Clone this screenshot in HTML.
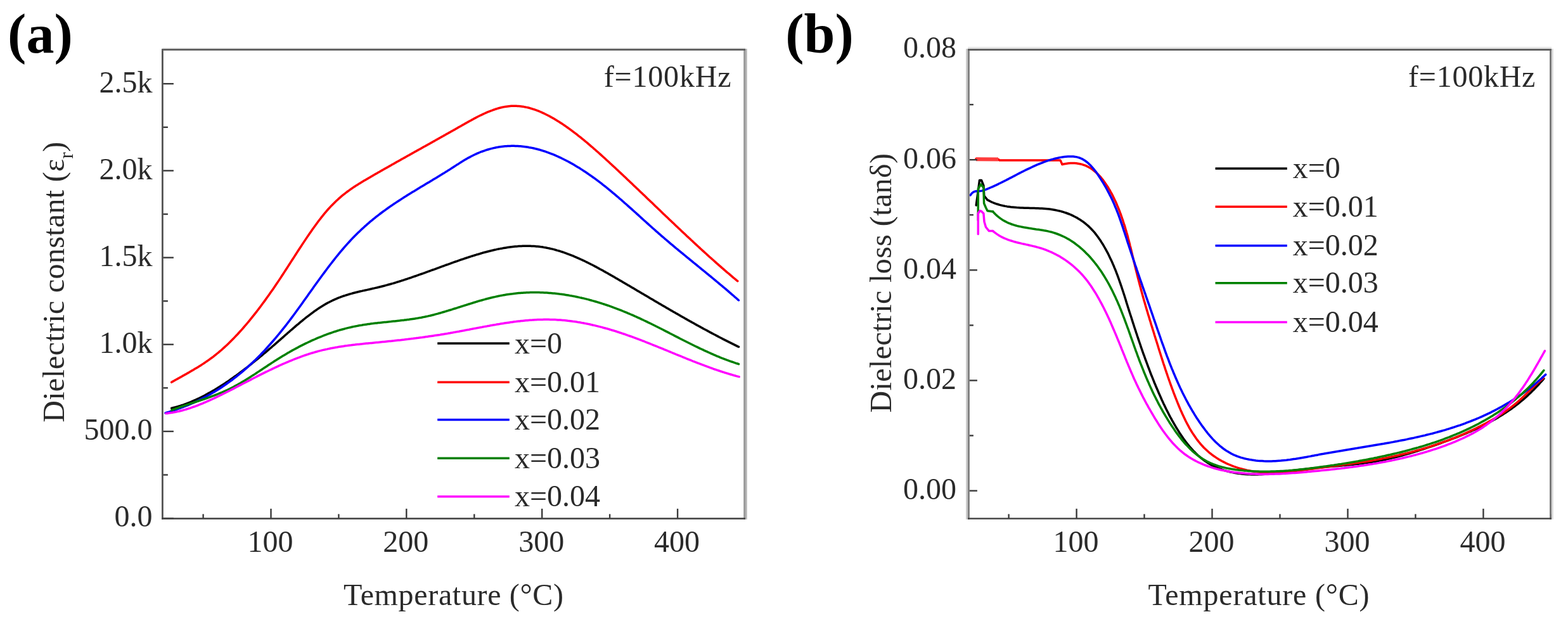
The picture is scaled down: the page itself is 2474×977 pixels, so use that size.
<!DOCTYPE html>
<html><head><meta charset="utf-8"><title>Dielectric properties</title>
<style>html,body{margin:0;padding:0;background:#fff;} svg{display:block;}</style></head>
<body>
<svg width="2474" height="977" viewBox="0 0 2474 977">
<rect width="2474" height="977" fill="#fff"/>
<clipPath id="clip256"><rect x="256.4" y="78.2" width="919.6" height="740.2"/></clipPath>
<g clip-path="url(#clip256)" fill="none" stroke-width="3.5" stroke-linejoin="round" stroke-linecap="round">
<path d="M270.7,644.3 L272.7,643.8 L274.7,643.3 L276.7,642.8 L278.7,642.2 L280.7,641.6 L282.7,641.0 L284.7,640.4 L286.7,639.7 L288.7,639.1 L290.7,638.4 L292.7,637.6 L294.7,636.9 L296.7,636.1 L298.7,635.3 L300.7,634.5 L302.7,633.7 L304.7,632.8 L306.7,631.9 L308.7,631.0 L310.7,630.1 L312.7,629.2 L314.7,628.2 L316.7,627.2 L318.7,626.2 L320.7,625.2 L322.7,624.2 L324.7,623.1 L326.7,622.0 L328.7,620.9 L330.7,619.8 L332.7,618.7 L334.7,617.5 L336.7,616.4 L338.7,615.2 L340.7,614.0 L342.7,612.8 L344.7,611.5 L346.7,610.3 L348.7,609.0 L350.7,607.7 L352.7,606.4 L354.7,605.1 L356.7,603.8 L358.7,602.4 L360.7,601.1 L362.7,599.7 L364.7,598.3 L366.7,596.9 L368.7,595.5 L370.7,594.0 L372.7,592.6 L374.7,591.1 L376.7,589.7 L378.7,588.2 L380.7,586.7 L382.7,585.2 L384.7,583.7 L386.7,582.1 L388.7,580.6 L390.7,579.1 L392.7,577.5 L394.7,575.9 L396.7,574.3 L398.7,572.7 L400.7,571.1 L402.7,569.5 L404.7,567.9 L406.7,566.3 L408.7,564.6 L410.7,563.0 L412.7,561.3 L414.7,559.6 L416.7,558.0 L418.7,556.3 L420.7,554.6 L422.7,552.9 L424.7,551.2 L426.7,549.5 L428.7,547.8 L430.7,546.0 L432.7,544.3 L434.7,542.6 L436.7,540.8 L438.7,539.1 L440.7,537.3 L442.7,535.6 L444.7,533.8 L446.7,532.1 L448.7,530.3 L450.7,528.5 L452.7,526.8 L454.7,525.0 L456.7,523.3 L458.7,521.5 L460.7,519.8 L462.7,518.1 L464.7,516.4 L466.7,514.6 L468.7,512.9 L470.7,511.3 L472.7,509.6 L474.7,507.9 L476.7,506.3 L478.7,504.6 L480.7,503.0 L482.7,501.4 L484.7,499.9 L486.7,498.3 L488.7,496.8 L490.7,495.3 L492.7,493.8 L494.7,492.3 L496.7,490.9 L498.7,489.5 L500.7,488.1 L502.7,486.8 L504.7,485.4 L506.7,484.2 L508.7,482.9 L510.7,481.7 L512.7,480.5 L514.7,479.4 L516.7,478.3 L518.7,477.2 L520.7,476.2 L522.7,475.2 L524.7,474.2 L526.7,473.3 L528.7,472.4 L530.7,471.6 L532.7,470.7 L534.7,469.9 L536.7,469.2 L538.7,468.4 L540.7,467.7 L542.7,467.0 L544.7,466.4 L546.7,465.7 L548.7,465.1 L550.7,464.5 L552.7,463.9 L554.7,463.4 L556.7,462.8 L558.7,462.3 L560.7,461.8 L562.7,461.3 L564.7,460.8 L566.7,460.3 L568.7,459.8 L570.7,459.4 L572.7,458.9 L574.7,458.5 L576.7,458.0 L578.7,457.6 L580.7,457.1 L582.7,456.7 L584.7,456.2 L586.7,455.8 L588.7,455.3 L590.7,454.9 L592.7,454.4 L594.7,454.0 L596.7,453.5 L598.7,453.0 L600.7,452.5 L602.7,452.0 L604.7,451.5 L606.7,451.0 L608.7,450.4 L610.7,449.9 L612.7,449.3 L614.7,448.8 L616.7,448.2 L618.7,447.6 L620.7,447.1 L622.7,446.5 L624.7,445.9 L626.7,445.2 L628.7,444.6 L630.7,444.0 L632.7,443.4 L634.7,442.7 L636.7,442.1 L638.7,441.4 L640.7,440.8 L642.7,440.1 L644.7,439.4 L646.7,438.8 L648.7,438.1 L650.7,437.4 L652.7,436.7 L654.7,436.0 L656.7,435.3 L658.7,434.6 L660.7,433.9 L662.7,433.2 L664.7,432.5 L666.7,431.8 L668.7,431.1 L670.7,430.4 L672.7,429.6 L674.7,428.9 L676.7,428.2 L678.7,427.5 L680.7,426.7 L682.7,426.0 L684.7,425.3 L686.7,424.6 L688.7,423.8 L690.7,423.1 L692.7,422.4 L694.7,421.6 L696.7,420.9 L698.7,420.2 L700.7,419.5 L702.7,418.7 L704.7,418.0 L706.7,417.3 L708.7,416.6 L710.7,415.9 L712.7,415.1 L714.7,414.4 L716.7,413.7 L718.7,413.0 L720.7,412.3 L722.7,411.6 L724.7,410.9 L726.7,410.2 L728.7,409.5 L730.7,408.9 L732.7,408.2 L734.7,407.5 L736.7,406.8 L738.7,406.2 L740.7,405.5 L742.7,404.9 L744.7,404.2 L746.7,403.6 L748.7,403.0 L750.7,402.4 L752.7,401.7 L754.7,401.2 L756.7,400.6 L758.7,400.0 L760.7,399.4 L762.7,398.8 L764.7,398.3 L766.7,397.8 L768.7,397.2 L770.7,396.7 L772.7,396.2 L774.7,395.7 L776.7,395.2 L778.7,394.8 L780.7,394.3 L782.7,393.9 L784.7,393.4 L786.7,393.0 L788.7,392.6 L790.7,392.2 L792.7,391.9 L794.7,391.5 L796.7,391.2 L798.7,390.9 L800.7,390.6 L802.7,390.3 L804.7,390.0 L806.7,389.7 L808.7,389.5 L810.7,389.3 L812.7,389.1 L814.7,388.9 L816.7,388.8 L818.7,388.6 L820.7,388.5 L822.7,388.4 L824.7,388.3 L826.7,388.3 L828.7,388.2 L830.7,388.2 L832.7,388.2 L834.7,388.2 L836.7,388.3 L838.7,388.4 L840.7,388.5 L842.7,388.6 L844.7,388.7 L846.7,388.9 L848.7,389.1 L850.7,389.3 L852.7,389.6 L854.7,389.8 L856.7,390.1 L858.7,390.5 L860.7,390.8 L862.7,391.2 L864.7,391.6 L866.7,392.0 L868.7,392.5 L870.7,392.9 L872.7,393.4 L874.7,393.9 L876.7,394.5 L878.7,395.1 L880.7,395.6 L882.7,396.2 L884.7,396.9 L886.7,397.5 L888.7,398.2 L890.7,398.9 L892.7,399.6 L894.7,400.3 L896.7,401.1 L898.7,401.8 L900.7,402.6 L902.7,403.4 L904.7,404.2 L906.7,405.1 L908.7,405.9 L910.7,406.8 L912.7,407.7 L914.7,408.6 L916.7,409.5 L918.7,410.4 L920.7,411.3 L922.7,412.3 L924.7,413.3 L926.7,414.2 L928.7,415.2 L930.7,416.2 L932.7,417.3 L934.7,418.3 L936.7,419.3 L938.7,420.4 L940.7,421.4 L942.7,422.5 L944.7,423.6 L946.7,424.7 L948.7,425.7 L950.7,426.8 L952.7,428.0 L954.7,429.1 L956.7,430.2 L958.7,431.3 L960.7,432.5 L962.7,433.6 L964.7,434.7 L966.7,435.9 L968.7,437.0 L970.7,438.2 L972.7,439.4 L974.7,440.5 L976.7,441.7 L978.7,442.9 L980.7,444.0 L982.7,445.2 L984.7,446.4 L986.7,447.6 L988.7,448.7 L990.7,449.9 L992.7,451.1 L994.7,452.3 L996.7,453.5 L998.7,454.6 L1000.7,455.8 L1002.7,457.0 L1004.7,458.2 L1006.7,459.4 L1008.7,460.5 L1010.7,461.7 L1012.7,462.9 L1014.7,464.1 L1016.7,465.3 L1018.7,466.4 L1020.7,467.6 L1022.7,468.8 L1024.7,470.0 L1026.7,471.2 L1028.7,472.3 L1030.7,473.5 L1032.7,474.7 L1034.7,475.9 L1036.7,477.0 L1038.7,478.2 L1040.7,479.4 L1042.7,480.5 L1044.7,481.7 L1046.7,482.9 L1048.7,484.0 L1050.7,485.2 L1052.7,486.4 L1054.7,487.5 L1056.7,488.7 L1058.7,489.9 L1060.7,491.0 L1062.7,492.2 L1064.7,493.3 L1066.7,494.5 L1068.7,495.6 L1070.7,496.8 L1072.7,497.9 L1074.7,499.1 L1076.7,500.2 L1078.7,501.3 L1080.7,502.5 L1082.7,503.6 L1084.7,504.7 L1086.7,505.9 L1088.7,507.0 L1090.7,508.1 L1092.7,509.2 L1094.7,510.3 L1096.7,511.5 L1098.7,512.6 L1100.7,513.7 L1102.7,514.8 L1104.7,515.9 L1106.7,517.0 L1108.7,518.1 L1110.7,519.2 L1112.7,520.2 L1114.7,521.3 L1116.7,522.4 L1118.7,523.5 L1120.7,524.6 L1122.7,525.6 L1124.7,526.7 L1126.7,527.8 L1128.7,528.8 L1130.7,529.9 L1132.7,530.9 L1134.7,532.0 L1136.7,533.0 L1138.7,534.0 L1140.7,535.1 L1142.7,536.1 L1144.7,537.1 L1146.7,538.1 L1148.7,539.1 L1150.7,540.1 L1152.7,541.1 L1154.7,542.1 L1156.7,543.1 L1158.7,544.1 L1160.7,545.1 L1162.7,546.1 L1164.7,547.1 L1165.5,547.4" stroke="#000000"/>
<path d="M270.7,603.3 L272.7,602.1 L274.7,601.0 L276.7,599.8 L278.7,598.7 L280.7,597.6 L282.7,596.5 L284.7,595.4 L286.7,594.2 L288.7,593.1 L290.7,592.0 L292.7,590.9 L294.7,589.7 L296.7,588.6 L298.7,587.5 L300.7,586.3 L302.7,585.1 L304.7,584.0 L306.7,582.8 L308.7,581.6 L310.7,580.4 L312.7,579.2 L314.7,577.9 L316.7,576.7 L318.7,575.4 L320.7,574.1 L322.7,572.7 L324.7,571.4 L326.7,570.0 L328.7,568.6 L330.7,567.2 L332.7,565.7 L334.7,564.3 L336.7,562.8 L338.7,561.2 L340.7,559.6 L342.7,558.0 L344.7,556.4 L346.7,554.7 L348.7,553.0 L350.7,551.2 L352.7,549.4 L354.7,547.6 L356.7,545.8 L358.7,543.9 L360.7,542.0 L362.7,540.0 L364.7,538.0 L366.7,536.0 L368.7,534.0 L370.7,531.9 L372.7,529.8 L374.7,527.7 L376.7,525.5 L378.7,523.3 L380.7,521.1 L382.7,518.8 L384.7,516.5 L386.7,514.2 L388.7,511.9 L390.7,509.5 L392.7,507.1 L394.7,504.7 L396.7,502.2 L398.7,499.7 L400.7,497.2 L402.7,494.6 L404.7,492.1 L406.7,489.5 L408.7,486.9 L410.7,484.2 L412.7,481.5 L414.7,478.8 L416.7,476.1 L418.7,473.4 L420.7,470.6 L422.7,467.8 L424.7,465.0 L426.7,462.1 L428.7,459.3 L430.7,456.4 L432.7,453.5 L434.7,450.5 L436.7,447.6 L438.7,444.6 L440.7,441.6 L442.7,438.6 L444.7,435.5 L446.7,432.5 L448.7,429.4 L450.7,426.3 L452.7,423.2 L454.7,420.1 L456.7,417.0 L458.7,413.9 L460.7,410.8 L462.7,407.7 L464.7,404.6 L466.7,401.5 L468.7,398.4 L470.7,395.3 L472.7,392.2 L474.7,389.2 L476.7,386.1 L478.7,383.1 L480.7,380.1 L482.7,377.1 L484.7,374.1 L486.7,371.2 L488.7,368.3 L490.7,365.4 L492.7,362.5 L494.7,359.7 L496.7,356.9 L498.7,354.2 L500.7,351.5 L502.7,348.8 L504.7,346.2 L506.7,343.6 L508.7,341.1 L510.7,338.6 L512.7,336.2 L514.7,333.8 L516.7,331.5 L518.7,329.3 L520.7,327.1 L522.7,324.9 L524.7,322.9 L526.7,320.9 L528.7,318.9 L530.7,317.0 L532.7,315.2 L534.7,313.4 L536.7,311.6 L538.7,309.9 L540.7,308.2 L542.7,306.6 L544.7,305.1 L546.7,303.5 L548.7,302.0 L550.7,300.6 L552.7,299.1 L554.7,297.7 L556.7,296.4 L558.7,295.0 L560.7,293.7 L562.7,292.4 L564.7,291.2 L566.7,289.9 L568.7,288.7 L570.7,287.5 L572.7,286.3 L574.7,285.1 L576.7,283.9 L578.7,282.7 L580.7,281.6 L582.7,280.4 L584.7,279.2 L586.7,278.1 L588.7,276.9 L590.7,275.8 L592.7,274.6 L594.7,273.5 L596.7,272.3 L598.7,271.2 L600.7,270.0 L602.7,268.9 L604.7,267.8 L606.7,266.6 L608.7,265.5 L610.7,264.4 L612.7,263.2 L614.7,262.1 L616.7,261.0 L618.7,259.8 L620.7,258.7 L622.7,257.6 L624.7,256.4 L626.7,255.3 L628.7,254.2 L630.7,253.1 L632.7,251.9 L634.7,250.8 L636.7,249.7 L638.7,248.6 L640.7,247.5 L642.7,246.3 L644.7,245.2 L646.7,244.1 L648.7,243.0 L650.7,241.9 L652.7,240.8 L654.7,239.6 L656.7,238.5 L658.7,237.4 L660.7,236.3 L662.7,235.2 L664.7,234.1 L666.7,232.9 L668.7,231.8 L670.7,230.7 L672.7,229.6 L674.7,228.5 L676.7,227.4 L678.7,226.2 L680.7,225.1 L682.7,224.0 L684.7,222.9 L686.7,221.8 L688.7,220.6 L690.7,219.5 L692.7,218.4 L694.7,217.3 L696.7,216.1 L698.7,215.0 L700.7,213.9 L702.7,212.8 L704.7,211.6 L706.7,210.5 L708.7,209.4 L710.7,208.3 L712.7,207.1 L714.7,206.0 L716.7,204.9 L718.7,203.7 L720.7,202.6 L722.7,201.4 L724.7,200.3 L726.7,199.2 L728.7,198.0 L730.7,196.9 L732.7,195.7 L734.7,194.6 L736.7,193.5 L738.7,192.4 L740.7,191.3 L742.7,190.2 L744.7,189.1 L746.7,188.0 L748.7,186.9 L750.7,185.9 L752.7,184.8 L754.7,183.8 L756.7,182.8 L758.7,181.8 L760.7,180.9 L762.7,179.9 L764.7,179.0 L766.7,178.1 L768.7,177.2 L770.7,176.4 L772.7,175.6 L774.7,174.8 L776.7,174.1 L778.7,173.3 L780.7,172.7 L782.7,172.0 L784.7,171.4 L786.7,170.8 L788.7,170.3 L790.7,169.8 L792.7,169.3 L794.7,168.9 L796.7,168.5 L798.7,168.2 L800.7,167.9 L802.7,167.7 L804.7,167.5 L806.7,167.3 L808.7,167.2 L810.7,167.2 L812.7,167.2 L814.7,167.3 L816.7,167.4 L818.7,167.5 L820.7,167.7 L822.7,168.0 L824.7,168.3 L826.7,168.6 L828.7,169.0 L830.7,169.4 L832.7,169.8 L834.7,170.3 L836.7,170.9 L838.7,171.5 L840.7,172.1 L842.7,172.7 L844.7,173.4 L846.7,174.1 L848.7,174.9 L850.7,175.7 L852.7,176.5 L854.7,177.4 L856.7,178.3 L858.7,179.2 L860.7,180.2 L862.7,181.2 L864.7,182.2 L866.7,183.3 L868.7,184.4 L870.7,185.5 L872.7,186.6 L874.7,187.8 L876.7,189.0 L878.7,190.2 L880.7,191.4 L882.7,192.7 L884.7,194.0 L886.7,195.3 L888.7,196.6 L890.7,198.0 L892.7,199.4 L894.7,200.8 L896.7,202.2 L898.7,203.6 L900.7,205.1 L902.7,206.6 L904.7,208.1 L906.7,209.6 L908.7,211.1 L910.7,212.7 L912.7,214.3 L914.7,215.8 L916.7,217.4 L918.7,219.1 L920.7,220.7 L922.7,222.3 L924.7,224.0 L926.7,225.7 L928.7,227.4 L930.7,229.1 L932.7,230.8 L934.7,232.5 L936.7,234.3 L938.7,236.0 L940.7,237.8 L942.7,239.5 L944.7,241.3 L946.7,243.1 L948.7,244.9 L950.7,246.7 L952.7,248.5 L954.7,250.3 L956.7,252.2 L958.7,254.0 L960.7,255.8 L962.7,257.7 L964.7,259.5 L966.7,261.4 L968.7,263.2 L970.7,265.1 L972.7,267.0 L974.7,268.8 L976.7,270.7 L978.7,272.6 L980.7,274.4 L982.7,276.3 L984.7,278.2 L986.7,280.1 L988.7,282.0 L990.7,283.9 L992.7,285.8 L994.7,287.7 L996.7,289.6 L998.7,291.5 L1000.7,293.4 L1002.7,295.3 L1004.7,297.2 L1006.7,299.1 L1008.7,301.0 L1010.7,302.9 L1012.7,304.8 L1014.7,306.7 L1016.7,308.6 L1018.7,310.5 L1020.7,312.5 L1022.7,314.4 L1024.7,316.3 L1026.7,318.2 L1028.7,320.1 L1030.7,322.0 L1032.7,324.0 L1034.7,325.9 L1036.7,327.8 L1038.7,329.7 L1040.7,331.6 L1042.7,333.5 L1044.7,335.4 L1046.7,337.4 L1048.7,339.3 L1050.7,341.2 L1052.7,343.1 L1054.7,345.0 L1056.7,346.9 L1058.7,348.8 L1060.7,350.7 L1062.7,352.6 L1064.7,354.5 L1066.7,356.4 L1068.7,358.3 L1070.7,360.2 L1072.7,362.1 L1074.7,364.0 L1076.7,365.9 L1078.7,367.7 L1080.7,369.6 L1082.7,371.5 L1084.7,373.4 L1086.7,375.2 L1088.7,377.1 L1090.7,379.0 L1092.7,380.8 L1094.7,382.7 L1096.7,384.6 L1098.7,386.4 L1100.7,388.2 L1102.7,390.1 L1104.7,391.9 L1106.7,393.8 L1108.7,395.6 L1110.7,397.4 L1112.7,399.2 L1114.7,401.0 L1116.7,402.9 L1118.7,404.7 L1120.7,406.5 L1122.7,408.2 L1124.7,410.0 L1126.7,411.8 L1128.7,413.6 L1130.7,415.4 L1132.7,417.1 L1134.7,418.9 L1136.7,420.6 L1138.7,422.4 L1140.7,424.1 L1142.7,425.9 L1144.7,427.6 L1146.7,429.3 L1148.7,431.0 L1150.7,432.7 L1152.7,434.4 L1154.7,436.1 L1156.7,437.8 L1158.7,439.5 L1160.7,441.2 L1162.7,442.8 L1163.8,443.7" stroke="#ff0000"/>
<path d="M261.0,651.9 L263.0,651.3 L265.0,650.7 L267.0,650.1 L269.0,649.5 L271.0,648.8 L273.0,648.2 L275.0,647.5 L277.0,646.8 L279.0,646.1 L281.0,645.4 L283.0,644.7 L285.0,644.0 L287.0,643.2 L289.0,642.5 L291.0,641.7 L293.0,640.9 L295.0,640.1 L297.0,639.3 L299.0,638.4 L301.0,637.6 L303.0,636.7 L305.0,635.8 L307.0,634.9 L309.0,634.0 L311.0,633.0 L313.0,632.1 L315.0,631.1 L317.0,630.1 L319.0,629.1 L321.0,628.1 L323.0,627.0 L325.0,626.0 L327.0,624.9 L329.0,623.8 L331.0,622.7 L333.0,621.5 L335.0,620.3 L337.0,619.2 L339.0,618.0 L341.0,616.7 L343.0,615.5 L345.0,614.2 L347.0,613.0 L349.0,611.7 L351.0,610.3 L353.0,609.0 L355.0,607.6 L357.0,606.2 L359.0,604.8 L361.0,603.4 L363.0,601.9 L365.0,600.5 L367.0,599.0 L369.0,597.4 L371.0,595.9 L373.0,594.3 L375.0,592.7 L377.0,591.1 L379.0,589.5 L381.0,587.8 L383.0,586.1 L385.0,584.4 L387.0,582.7 L389.0,580.9 L391.0,579.1 L393.0,577.3 L395.0,575.5 L397.0,573.6 L399.0,571.7 L401.0,569.8 L403.0,567.9 L405.0,565.9 L407.0,563.9 L409.0,561.9 L411.0,559.9 L413.0,557.8 L415.0,555.7 L417.0,553.6 L419.0,551.4 L421.0,549.2 L423.0,547.0 L425.0,544.8 L427.0,542.5 L429.0,540.3 L431.0,538.0 L433.0,535.6 L435.0,533.3 L437.0,530.9 L439.0,528.5 L441.0,526.1 L443.0,523.6 L445.0,521.1 L447.0,518.6 L449.0,516.1 L451.0,513.6 L453.0,511.0 L455.0,508.4 L457.0,505.8 L459.0,503.1 L461.0,500.4 L463.0,497.7 L465.0,495.0 L467.0,492.3 L469.0,489.5 L471.0,486.8 L473.0,484.0 L475.0,481.2 L477.0,478.4 L479.0,475.6 L481.0,472.8 L483.0,470.0 L485.0,467.2 L487.0,464.3 L489.0,461.5 L491.0,458.7 L493.0,455.9 L495.0,453.1 L497.0,450.3 L499.0,447.5 L501.0,444.7 L503.0,442.0 L505.0,439.2 L507.0,436.5 L509.0,433.8 L511.0,431.1 L513.0,428.4 L515.0,425.7 L517.0,423.0 L519.0,420.4 L521.0,417.8 L523.0,415.2 L525.0,412.6 L527.0,410.1 L529.0,407.5 L531.0,405.0 L533.0,402.6 L535.0,400.1 L537.0,397.7 L539.0,395.3 L541.0,393.0 L543.0,390.6 L545.0,388.3 L547.0,386.1 L549.0,383.9 L551.0,381.7 L553.0,379.5 L555.0,377.4 L557.0,375.3 L559.0,373.3 L561.0,371.3 L563.0,369.3 L565.0,367.3 L567.0,365.4 L569.0,363.5 L571.0,361.6 L573.0,359.8 L575.0,357.9 L577.0,356.2 L579.0,354.4 L581.0,352.7 L583.0,350.9 L585.0,349.2 L587.0,347.6 L589.0,345.9 L591.0,344.3 L593.0,342.7 L595.0,341.1 L597.0,339.6 L599.0,338.0 L601.0,336.5 L603.0,335.0 L605.0,333.5 L607.0,332.1 L609.0,330.6 L611.0,329.2 L613.0,327.8 L615.0,326.4 L617.0,325.0 L619.0,323.6 L621.0,322.3 L623.0,320.9 L625.0,319.6 L627.0,318.3 L629.0,317.0 L631.0,315.7 L633.0,314.4 L635.0,313.1 L637.0,311.8 L639.0,310.6 L641.0,309.3 L643.0,308.0 L645.0,306.8 L647.0,305.6 L649.0,304.3 L651.0,303.1 L653.0,301.9 L655.0,300.7 L657.0,299.5 L659.0,298.3 L661.0,297.0 L663.0,295.8 L665.0,294.6 L667.0,293.4 L669.0,292.2 L671.0,291.0 L673.0,289.8 L675.0,288.6 L677.0,287.5 L679.0,286.3 L681.0,285.1 L683.0,283.8 L685.0,282.6 L687.0,281.4 L689.0,280.2 L691.0,279.0 L693.0,277.8 L695.0,276.6 L697.0,275.3 L699.0,274.1 L701.0,272.9 L703.0,271.6 L705.0,270.4 L707.0,269.1 L709.0,267.9 L711.0,266.6 L713.0,265.3 L715.0,264.0 L717.0,262.7 L719.0,261.4 L721.0,260.1 L723.0,258.9 L725.0,257.6 L727.0,256.3 L729.0,255.1 L731.0,253.8 L733.0,252.6 L735.0,251.4 L737.0,250.3 L739.0,249.1 L741.0,248.1 L743.0,247.0 L745.0,246.0 L747.0,245.0 L749.0,244.0 L751.0,243.1 L753.0,242.2 L755.0,241.3 L757.0,240.5 L759.0,239.7 L761.0,239.0 L763.0,238.3 L765.0,237.6 L767.0,236.9 L769.0,236.3 L771.0,235.7 L773.0,235.1 L775.0,234.6 L777.0,234.1 L779.0,233.6 L781.0,233.2 L783.0,232.8 L785.0,232.4 L787.0,232.1 L789.0,231.8 L791.0,231.5 L793.0,231.2 L795.0,231.0 L797.0,230.8 L799.0,230.7 L801.0,230.5 L803.0,230.4 L805.0,230.4 L807.0,230.3 L809.0,230.3 L811.0,230.3 L813.0,230.4 L815.0,230.4 L817.0,230.5 L819.0,230.7 L821.0,230.8 L823.0,231.0 L825.0,231.2 L827.0,231.4 L829.0,231.7 L831.0,232.0 L833.0,232.3 L835.0,232.7 L837.0,233.0 L839.0,233.4 L841.0,233.8 L843.0,234.3 L845.0,234.8 L847.0,235.2 L849.0,235.8 L851.0,236.3 L853.0,236.9 L855.0,237.5 L857.0,238.1 L859.0,238.7 L861.0,239.4 L863.0,240.1 L865.0,240.8 L867.0,241.6 L869.0,242.3 L871.0,243.1 L873.0,243.9 L875.0,244.7 L877.0,245.6 L879.0,246.5 L881.0,247.4 L883.0,248.3 L885.0,249.2 L887.0,250.2 L889.0,251.2 L891.0,252.2 L893.0,253.2 L895.0,254.3 L897.0,255.3 L899.0,256.4 L901.0,257.5 L903.0,258.6 L905.0,259.8 L907.0,261.0 L909.0,262.2 L911.0,263.4 L913.0,264.6 L915.0,265.8 L917.0,267.1 L919.0,268.4 L921.0,269.7 L923.0,271.0 L925.0,272.3 L927.0,273.7 L929.0,275.1 L931.0,276.5 L933.0,277.9 L935.0,279.3 L937.0,280.7 L939.0,282.2 L941.0,283.7 L943.0,285.2 L945.0,286.7 L947.0,288.2 L949.0,289.7 L951.0,291.3 L953.0,292.8 L955.0,294.4 L957.0,296.0 L959.0,297.7 L961.0,299.3 L963.0,300.9 L965.0,302.6 L967.0,304.3 L969.0,305.9 L971.0,307.6 L973.0,309.3 L975.0,311.0 L977.0,312.8 L979.0,314.5 L981.0,316.2 L983.0,318.0 L985.0,319.8 L987.0,321.5 L989.0,323.3 L991.0,325.1 L993.0,326.9 L995.0,328.6 L997.0,330.4 L999.0,332.2 L1001.0,334.0 L1003.0,335.8 L1005.0,337.6 L1007.0,339.4 L1009.0,341.2 L1011.0,343.1 L1013.0,344.9 L1015.0,346.7 L1017.0,348.5 L1019.0,350.3 L1021.0,352.1 L1023.0,353.9 L1025.0,355.7 L1027.0,357.5 L1029.0,359.3 L1031.0,361.0 L1033.0,362.8 L1035.0,364.6 L1037.0,366.3 L1039.0,368.1 L1041.0,369.8 L1043.0,371.6 L1045.0,373.3 L1047.0,375.0 L1049.0,376.8 L1051.0,378.5 L1053.0,380.2 L1055.0,381.9 L1057.0,383.6 L1059.0,385.3 L1061.0,386.9 L1063.0,388.6 L1065.0,390.3 L1067.0,392.0 L1069.0,393.6 L1071.0,395.3 L1073.0,396.9 L1075.0,398.6 L1077.0,400.2 L1079.0,401.9 L1081.0,403.5 L1083.0,405.2 L1085.0,406.8 L1087.0,408.4 L1089.0,410.1 L1091.0,411.7 L1093.0,413.3 L1095.0,415.0 L1097.0,416.6 L1099.0,418.2 L1101.0,419.9 L1103.0,421.5 L1105.0,423.1 L1107.0,424.8 L1109.0,426.4 L1111.0,428.0 L1113.0,429.7 L1115.0,431.3 L1117.0,432.9 L1119.0,434.6 L1121.0,436.2 L1123.0,437.9 L1125.0,439.5 L1127.0,441.2 L1129.0,442.8 L1131.0,444.5 L1133.0,446.1 L1135.0,447.8 L1137.0,449.5 L1139.0,451.2 L1141.0,452.8 L1143.0,454.5 L1145.0,456.2 L1147.0,457.9 L1149.0,459.6 L1151.0,461.4 L1153.0,463.1 L1155.0,464.8 L1157.0,466.5 L1159.0,468.3 L1161.0,470.0 L1163.0,471.8 L1165.0,473.6 L1165.5,474.0" stroke="#0000ff"/>
<path d="M270.7,647.5 L272.7,646.7 L274.7,646.0 L276.7,645.2 L278.7,644.5 L280.7,643.8 L282.7,643.0 L284.7,642.3 L286.7,641.6 L288.7,641.0 L290.7,640.3 L292.7,639.6 L294.7,638.9 L296.7,638.3 L298.7,637.6 L300.7,636.9 L302.7,636.3 L304.7,635.6 L306.7,635.0 L308.7,634.3 L310.7,633.7 L312.7,633.0 L314.7,632.3 L316.7,631.7 L318.7,631.0 L320.7,630.3 L322.7,629.7 L324.7,629.0 L326.7,628.3 L328.7,627.6 L330.7,626.9 L332.7,626.1 L334.7,625.4 L336.7,624.7 L338.7,623.9 L340.7,623.1 L342.7,622.3 L344.7,621.5 L346.7,620.7 L348.7,619.9 L350.7,619.0 L352.7,618.2 L354.7,617.3 L356.7,616.4 L358.7,615.5 L360.7,614.5 L362.7,613.5 L364.7,612.5 L366.7,611.5 L368.7,610.5 L370.7,609.4 L372.7,608.3 L374.7,607.2 L376.7,606.1 L378.7,605.0 L380.7,603.8 L382.7,602.6 L384.7,601.4 L386.7,600.2 L388.7,599.0 L390.7,597.7 L392.7,596.5 L394.7,595.2 L396.7,593.9 L398.7,592.6 L400.7,591.4 L402.7,590.1 L404.7,588.7 L406.7,587.4 L408.7,586.1 L410.7,584.8 L412.7,583.5 L414.7,582.1 L416.7,580.8 L418.7,579.5 L420.7,578.2 L422.7,576.8 L424.7,575.5 L426.7,574.2 L428.7,572.9 L430.7,571.6 L432.7,570.3 L434.7,569.0 L436.7,567.8 L438.7,566.5 L440.7,565.2 L442.7,564.0 L444.7,562.8 L446.7,561.6 L448.7,560.4 L450.7,559.2 L452.7,558.0 L454.7,556.8 L456.7,555.7 L458.7,554.5 L460.7,553.4 L462.7,552.3 L464.7,551.2 L466.7,550.1 L468.7,549.1 L470.7,548.0 L472.7,546.9 L474.7,545.9 L476.7,544.9 L478.7,543.9 L480.7,542.9 L482.7,541.9 L484.7,541.0 L486.7,540.0 L488.7,539.1 L490.7,538.1 L492.7,537.2 L494.7,536.3 L496.7,535.5 L498.7,534.6 L500.7,533.7 L502.7,532.9 L504.7,532.1 L506.7,531.3 L508.7,530.5 L510.7,529.7 L512.7,528.9 L514.7,528.2 L516.7,527.4 L518.7,526.7 L520.7,526.0 L522.7,525.3 L524.7,524.6 L526.7,523.9 L528.7,523.3 L530.7,522.7 L532.7,522.0 L534.7,521.4 L536.7,520.8 L538.7,520.3 L540.7,519.7 L542.7,519.2 L544.7,518.6 L546.7,518.1 L548.7,517.6 L550.7,517.1 L552.7,516.7 L554.7,516.2 L556.7,515.8 L558.7,515.4 L560.7,515.0 L562.7,514.6 L564.7,514.2 L566.7,513.8 L568.7,513.5 L570.7,513.2 L572.7,512.8 L574.7,512.5 L576.7,512.2 L578.7,511.9 L580.7,511.6 L582.7,511.4 L584.7,511.1 L586.7,510.8 L588.7,510.6 L590.7,510.3 L592.7,510.1 L594.7,509.9 L596.7,509.6 L598.7,509.4 L600.7,509.2 L602.7,509.0 L604.7,508.8 L606.7,508.6 L608.7,508.4 L610.7,508.2 L612.7,508.0 L614.7,507.8 L616.7,507.6 L618.7,507.3 L620.7,507.1 L622.7,506.9 L624.7,506.7 L626.7,506.5 L628.7,506.3 L630.7,506.1 L632.7,505.8 L634.7,505.6 L636.7,505.4 L638.7,505.1 L640.7,504.9 L642.7,504.6 L644.7,504.4 L646.7,504.1 L648.7,503.8 L650.7,503.5 L652.7,503.2 L654.7,502.9 L656.7,502.6 L658.7,502.3 L660.7,501.9 L662.7,501.5 L664.7,501.2 L666.7,500.8 L668.7,500.4 L670.7,500.0 L672.7,499.5 L674.7,499.1 L676.7,498.6 L678.7,498.2 L680.7,497.7 L682.7,497.2 L684.7,496.7 L686.7,496.1 L688.7,495.6 L690.7,495.1 L692.7,494.5 L694.7,494.0 L696.7,493.4 L698.7,492.8 L700.7,492.2 L702.7,491.6 L704.7,491.0 L706.7,490.4 L708.7,489.8 L710.7,489.2 L712.7,488.6 L714.7,487.9 L716.7,487.3 L718.7,486.7 L720.7,486.1 L722.7,485.4 L724.7,484.8 L726.7,484.1 L728.7,483.5 L730.7,482.9 L732.7,482.2 L734.7,481.6 L736.7,481.0 L738.7,480.3 L740.7,479.7 L742.7,479.1 L744.7,478.5 L746.7,477.8 L748.7,477.2 L750.7,476.6 L752.7,476.0 L754.7,475.4 L756.7,474.8 L758.7,474.3 L760.7,473.7 L762.7,473.1 L764.7,472.6 L766.7,472.0 L768.7,471.5 L770.7,471.0 L772.7,470.5 L774.7,470.0 L776.7,469.5 L778.7,469.0 L780.7,468.6 L782.7,468.1 L784.7,467.7 L786.7,467.3 L788.7,466.9 L790.7,466.5 L792.7,466.1 L794.7,465.7 L796.7,465.4 L798.7,465.1 L800.7,464.8 L802.7,464.5 L804.7,464.2 L806.7,463.9 L808.7,463.7 L810.7,463.4 L812.7,463.2 L814.7,463.0 L816.7,462.8 L818.7,462.6 L820.7,462.5 L822.7,462.3 L824.7,462.2 L826.7,462.0 L828.7,461.9 L830.7,461.8 L832.7,461.7 L834.7,461.7 L836.7,461.6 L838.7,461.6 L840.7,461.5 L842.7,461.5 L844.7,461.5 L846.7,461.5 L848.7,461.6 L850.7,461.6 L852.7,461.7 L854.7,461.7 L856.7,461.8 L858.7,461.9 L860.7,462.0 L862.7,462.1 L864.7,462.2 L866.7,462.4 L868.7,462.5 L870.7,462.7 L872.7,462.9 L874.7,463.1 L876.7,463.3 L878.7,463.5 L880.7,463.7 L882.7,464.0 L884.7,464.2 L886.7,464.5 L888.7,464.8 L890.7,465.1 L892.7,465.4 L894.7,465.7 L896.7,466.0 L898.7,466.4 L900.7,466.7 L902.7,467.1 L904.7,467.5 L906.7,467.9 L908.7,468.3 L910.7,468.7 L912.7,469.1 L914.7,469.6 L916.7,470.0 L918.7,470.5 L920.7,470.9 L922.7,471.4 L924.7,471.9 L926.7,472.4 L928.7,472.9 L930.7,473.5 L932.7,474.0 L934.7,474.6 L936.7,475.1 L938.7,475.7 L940.7,476.3 L942.7,476.9 L944.7,477.5 L946.7,478.1 L948.7,478.7 L950.7,479.4 L952.7,480.0 L954.7,480.7 L956.7,481.3 L958.7,482.0 L960.7,482.7 L962.7,483.4 L964.7,484.1 L966.7,484.8 L968.7,485.6 L970.7,486.3 L972.7,487.1 L974.7,487.8 L976.7,488.6 L978.7,489.4 L980.7,490.2 L982.7,491.0 L984.7,491.8 L986.7,492.6 L988.7,493.4 L990.7,494.3 L992.7,495.1 L994.7,496.0 L996.7,496.8 L998.7,497.7 L1000.7,498.6 L1002.7,499.5 L1004.7,500.4 L1006.7,501.3 L1008.7,502.2 L1010.7,503.1 L1012.7,504.1 L1014.7,505.0 L1016.7,506.0 L1018.7,506.9 L1020.7,507.9 L1022.7,508.9 L1024.7,509.8 L1026.7,510.8 L1028.7,511.8 L1030.7,512.8 L1032.7,513.8 L1034.7,514.8 L1036.7,515.8 L1038.7,516.8 L1040.7,517.8 L1042.7,518.8 L1044.7,519.8 L1046.7,520.8 L1048.7,521.9 L1050.7,522.9 L1052.7,523.9 L1054.7,524.9 L1056.7,526.0 L1058.7,527.0 L1060.7,528.0 L1062.7,529.0 L1064.7,530.1 L1066.7,531.1 L1068.7,532.1 L1070.7,533.1 L1072.7,534.2 L1074.7,535.2 L1076.7,536.2 L1078.7,537.2 L1080.7,538.2 L1082.7,539.2 L1084.7,540.2 L1086.7,541.2 L1088.7,542.2 L1090.7,543.2 L1092.7,544.2 L1094.7,545.2 L1096.7,546.2 L1098.7,547.2 L1100.7,548.1 L1102.7,549.1 L1104.7,550.1 L1106.7,551.0 L1108.7,551.9 L1110.7,552.9 L1112.7,553.8 L1114.7,554.7 L1116.7,555.6 L1118.7,556.5 L1120.7,557.4 L1122.7,558.3 L1124.7,559.2 L1126.7,560.1 L1128.7,560.9 L1130.7,561.8 L1132.7,562.6 L1134.7,563.4 L1136.7,564.3 L1138.7,565.1 L1140.7,565.8 L1142.7,566.6 L1144.7,567.4 L1146.7,568.2 L1148.7,568.9 L1150.7,569.6 L1152.7,570.3 L1154.7,571.0 L1156.7,571.7 L1158.7,572.4 L1160.7,573.1 L1162.7,573.7 L1164.7,574.3 L1165.5,574.6" stroke="#008000"/>
<path d="M262.0,652.6 L264.0,652.4 L266.0,652.1 L268.0,651.8 L270.0,651.5 L272.0,651.2 L274.0,650.8 L276.0,650.5 L278.0,650.1 L280.0,649.6 L282.0,649.2 L284.0,648.7 L286.0,648.2 L288.0,647.7 L290.0,647.1 L292.0,646.6 L294.0,646.0 L296.0,645.4 L298.0,644.7 L300.0,644.1 L302.0,643.4 L304.0,642.7 L306.0,642.0 L308.0,641.3 L310.0,640.5 L312.0,639.8 L314.0,639.0 L316.0,638.2 L318.0,637.4 L320.0,636.6 L322.0,635.7 L324.0,634.9 L326.0,634.0 L328.0,633.1 L330.0,632.2 L332.0,631.3 L334.0,630.4 L336.0,629.5 L338.0,628.6 L340.0,627.6 L342.0,626.7 L344.0,625.7 L346.0,624.7 L348.0,623.7 L350.0,622.8 L352.0,621.8 L354.0,620.8 L356.0,619.7 L358.0,618.7 L360.0,617.7 L362.0,616.7 L364.0,615.7 L366.0,614.6 L368.0,613.6 L370.0,612.6 L372.0,611.5 L374.0,610.5 L376.0,609.4 L378.0,608.4 L380.0,607.4 L382.0,606.3 L384.0,605.3 L386.0,604.2 L388.0,603.2 L390.0,602.2 L392.0,601.1 L394.0,600.1 L396.0,599.1 L398.0,598.0 L400.0,597.0 L402.0,596.0 L404.0,595.0 L406.0,593.9 L408.0,592.9 L410.0,591.9 L412.0,590.9 L414.0,589.9 L416.0,588.9 L418.0,587.9 L420.0,586.9 L422.0,586.0 L424.0,585.0 L426.0,584.0 L428.0,583.1 L430.0,582.1 L432.0,581.2 L434.0,580.2 L436.0,579.3 L438.0,578.4 L440.0,577.4 L442.0,576.5 L444.0,575.6 L446.0,574.7 L448.0,573.9 L450.0,573.0 L452.0,572.1 L454.0,571.3 L456.0,570.4 L458.0,569.6 L460.0,568.8 L462.0,568.0 L464.0,567.2 L466.0,566.4 L468.0,565.6 L470.0,564.8 L472.0,564.1 L474.0,563.3 L476.0,562.6 L478.0,561.9 L480.0,561.2 L482.0,560.5 L484.0,559.8 L486.0,559.2 L488.0,558.5 L490.0,557.9 L492.0,557.3 L494.0,556.7 L496.0,556.1 L498.0,555.5 L500.0,555.0 L502.0,554.4 L504.0,553.9 L506.0,553.4 L508.0,552.9 L510.0,552.4 L512.0,552.0 L514.0,551.5 L516.0,551.1 L518.0,550.6 L520.0,550.2 L522.0,549.8 L524.0,549.4 L526.0,549.1 L528.0,548.7 L530.0,548.3 L532.0,548.0 L534.0,547.6 L536.0,547.3 L538.0,547.0 L540.0,546.7 L542.0,546.4 L544.0,546.1 L546.0,545.8 L548.0,545.6 L550.0,545.3 L552.0,545.0 L554.0,544.8 L556.0,544.5 L558.0,544.3 L560.0,544.1 L562.0,543.8 L564.0,543.6 L566.0,543.4 L568.0,543.2 L570.0,543.0 L572.0,542.8 L574.0,542.5 L576.0,542.3 L578.0,542.1 L580.0,541.9 L582.0,541.7 L584.0,541.6 L586.0,541.4 L588.0,541.2 L590.0,541.0 L592.0,540.8 L594.0,540.6 L596.0,540.4 L598.0,540.2 L600.0,540.0 L602.0,539.8 L604.0,539.6 L606.0,539.4 L608.0,539.2 L610.0,539.0 L612.0,538.8 L614.0,538.6 L616.0,538.4 L618.0,538.2 L620.0,538.0 L622.0,537.8 L624.0,537.5 L626.0,537.3 L628.0,537.1 L630.0,536.9 L632.0,536.7 L634.0,536.4 L636.0,536.2 L638.0,536.0 L640.0,535.7 L642.0,535.5 L644.0,535.3 L646.0,535.0 L648.0,534.8 L650.0,534.5 L652.0,534.3 L654.0,534.0 L656.0,533.8 L658.0,533.5 L660.0,533.3 L662.0,533.0 L664.0,532.7 L666.0,532.5 L668.0,532.2 L670.0,531.9 L672.0,531.6 L674.0,531.4 L676.0,531.1 L678.0,530.8 L680.0,530.5 L682.0,530.2 L684.0,529.9 L686.0,529.6 L688.0,529.3 L690.0,529.0 L692.0,528.7 L694.0,528.4 L696.0,528.0 L698.0,527.7 L700.0,527.4 L702.0,527.1 L704.0,526.7 L706.0,526.4 L708.0,526.0 L710.0,525.7 L712.0,525.3 L714.0,525.0 L716.0,524.6 L718.0,524.3 L720.0,523.9 L722.0,523.5 L724.0,523.2 L726.0,522.8 L728.0,522.4 L730.0,522.1 L732.0,521.7 L734.0,521.3 L736.0,520.9 L738.0,520.5 L740.0,520.2 L742.0,519.8 L744.0,519.4 L746.0,519.0 L748.0,518.6 L750.0,518.3 L752.0,517.9 L754.0,517.5 L756.0,517.1 L758.0,516.7 L760.0,516.4 L762.0,516.0 L764.0,515.6 L766.0,515.2 L768.0,514.9 L770.0,514.5 L772.0,514.2 L774.0,513.8 L776.0,513.4 L778.0,513.1 L780.0,512.7 L782.0,512.4 L784.0,512.0 L786.0,511.7 L788.0,511.4 L790.0,511.0 L792.0,510.7 L794.0,510.4 L796.0,510.1 L798.0,509.8 L800.0,509.5 L802.0,509.2 L804.0,508.9 L806.0,508.6 L808.0,508.4 L810.0,508.1 L812.0,507.8 L814.0,507.6 L816.0,507.3 L818.0,507.1 L820.0,506.9 L822.0,506.6 L824.0,506.4 L826.0,506.2 L828.0,506.0 L830.0,505.8 L832.0,505.7 L834.0,505.5 L836.0,505.3 L838.0,505.2 L840.0,505.1 L842.0,504.9 L844.0,504.8 L846.0,504.7 L848.0,504.6 L850.0,504.5 L852.0,504.5 L854.0,504.4 L856.0,504.4 L858.0,504.3 L860.0,504.3 L862.0,504.3 L864.0,504.3 L866.0,504.3 L868.0,504.4 L870.0,504.4 L872.0,504.5 L874.0,504.6 L876.0,504.6 L878.0,504.7 L880.0,504.9 L882.0,505.0 L884.0,505.1 L886.0,505.3 L888.0,505.5 L890.0,505.6 L892.0,505.8 L894.0,506.0 L896.0,506.3 L898.0,506.5 L900.0,506.7 L902.0,507.0 L904.0,507.3 L906.0,507.5 L908.0,507.8 L910.0,508.1 L912.0,508.5 L914.0,508.8 L916.0,509.1 L918.0,509.5 L920.0,509.8 L922.0,510.2 L924.0,510.6 L926.0,511.0 L928.0,511.4 L930.0,511.8 L932.0,512.3 L934.0,512.7 L936.0,513.2 L938.0,513.6 L940.0,514.1 L942.0,514.6 L944.0,515.1 L946.0,515.6 L948.0,516.1 L950.0,516.6 L952.0,517.2 L954.0,517.7 L956.0,518.3 L958.0,518.8 L960.0,519.4 L962.0,520.0 L964.0,520.6 L966.0,521.2 L968.0,521.8 L970.0,522.4 L972.0,523.0 L974.0,523.7 L976.0,524.3 L978.0,525.0 L980.0,525.6 L982.0,526.3 L984.0,527.0 L986.0,527.7 L988.0,528.4 L990.0,529.1 L992.0,529.8 L994.0,530.5 L996.0,531.2 L998.0,531.9 L1000.0,532.7 L1002.0,533.4 L1004.0,534.1 L1006.0,534.9 L1008.0,535.7 L1010.0,536.4 L1012.0,537.2 L1014.0,538.0 L1016.0,538.7 L1018.0,539.5 L1020.0,540.3 L1022.0,541.1 L1024.0,541.9 L1026.0,542.7 L1028.0,543.5 L1030.0,544.3 L1032.0,545.1 L1034.0,545.9 L1036.0,546.7 L1038.0,547.5 L1040.0,548.3 L1042.0,549.1 L1044.0,549.9 L1046.0,550.7 L1048.0,551.6 L1050.0,552.4 L1052.0,553.2 L1054.0,554.0 L1056.0,554.8 L1058.0,555.7 L1060.0,556.5 L1062.0,557.3 L1064.0,558.1 L1066.0,559.0 L1068.0,559.8 L1070.0,560.6 L1072.0,561.4 L1074.0,562.2 L1076.0,563.0 L1078.0,563.9 L1080.0,564.7 L1082.0,565.5 L1084.0,566.3 L1086.0,567.1 L1088.0,567.9 L1090.0,568.7 L1092.0,569.5 L1094.0,570.3 L1096.0,571.0 L1098.0,571.8 L1100.0,572.6 L1102.0,573.4 L1104.0,574.1 L1106.0,574.9 L1108.0,575.7 L1110.0,576.4 L1112.0,577.2 L1114.0,577.9 L1116.0,578.7 L1118.0,579.4 L1120.0,580.1 L1122.0,580.8 L1124.0,581.5 L1126.0,582.3 L1128.0,583.0 L1130.0,583.6 L1132.0,584.3 L1134.0,585.0 L1136.0,585.7 L1138.0,586.3 L1140.0,587.0 L1142.0,587.6 L1144.0,588.3 L1146.0,588.9 L1148.0,589.5 L1150.0,590.1 L1152.0,590.7 L1154.0,591.3 L1156.0,591.9 L1158.0,592.5 L1160.0,593.0 L1162.0,593.6 L1164.0,594.1 L1166.0,594.6 L1166.2,594.7" stroke="#ff00ff"/>
</g>
<g stroke="#3a3a3a" stroke-width="2.4">
<line x1="256.4" y1="818.1" x2="273.9" y2="818.1"/>
<line x1="256.4" y1="680.9" x2="273.9" y2="680.9"/>
<line x1="256.4" y1="543.7" x2="273.9" y2="543.7"/>
<line x1="256.4" y1="406.6" x2="273.9" y2="406.6"/>
<line x1="256.4" y1="269.4" x2="273.9" y2="269.4"/>
<line x1="256.4" y1="132.2" x2="273.9" y2="132.2"/>
<line x1="256.4" y1="749.5" x2="264.9" y2="749.5"/>
<line x1="256.4" y1="612.3" x2="264.9" y2="612.3"/>
<line x1="256.4" y1="475.2" x2="264.9" y2="475.2"/>
<line x1="256.4" y1="338.0" x2="264.9" y2="338.0"/>
<line x1="256.4" y1="200.8" x2="264.9" y2="200.8"/>
<line x1="427.5" y1="818.4" x2="427.5" y2="802.9"/>
<line x1="641.3" y1="818.4" x2="641.3" y2="802.9"/>
<line x1="855.2" y1="818.4" x2="855.2" y2="802.9"/>
<line x1="1069.1" y1="818.4" x2="1069.1" y2="802.9"/>
<line x1="320.6" y1="818.4" x2="320.6" y2="811.4"/>
<line x1="534.4" y1="818.4" x2="534.4" y2="811.4"/>
<line x1="748.3" y1="818.4" x2="748.3" y2="811.4"/>
<line x1="962.1" y1="818.4" x2="962.1" y2="811.4"/>
<line x1="1176.0" y1="818.4" x2="1176.0" y2="811.4"/>
</g>
<rect x="256.4" y="75.3" width="919.6" height="1.7" fill="#e2e2e2"/>
<rect x="1173.2" y="77.0" width="2.8" height="742.8" fill="#999999"/>
<rect x="1176.0" y="77.0" width="2.7" height="742.8" fill="#b4b4b4"/>
<rect x="255.0" y="77.0" width="2.8" height="742.8" fill="#545454"/>
<rect x="255.0" y="77.0" width="921.0" height="2.8" fill="#5e5e5e"/>
<rect x="255.0" y="817.2" width="921.0" height="2.6" fill="#434343"/>
<g font-family="'Liberation Serif', 'Times New Roman', serif" font-size="48" fill="#2a2a2a" text-anchor="end">
<text x="240.5" y="831.4">0.0</text>
<text x="240.5" y="694.2">500.0</text>
<text x="240.5" y="557.0">1.0k</text>
<text x="240.5" y="419.9">1.5k</text>
<text x="240.5" y="282.7">2.0k</text>
<text x="240.5" y="145.5">2.5k</text>
</g>
<g font-family="'Liberation Serif', 'Times New Roman', serif" font-size="48" fill="#2a2a2a" text-anchor="middle">
<text x="426.5" y="870.5">100</text>
<text x="640.3" y="870.5">200</text>
<text x="854.2" y="870.5">300</text>
<text x="1068.1" y="870.5">400</text>
</g>
<line x1="690.2" y1="542.0" x2="803.8" y2="542.0" stroke="#000000" stroke-width="3.5"/>
<text x="812.0" y="557.5" font-family="'Liberation Serif', 'Times New Roman', serif" font-size="48" fill="#2a2a2a">x=0</text>
<line x1="690.2" y1="603.2" x2="803.8" y2="603.2" stroke="#ff0000" stroke-width="3.5"/>
<text x="812.0" y="618.7" font-family="'Liberation Serif', 'Times New Roman', serif" font-size="48" fill="#2a2a2a">x=0.01</text>
<line x1="690.2" y1="662.4" x2="803.8" y2="662.4" stroke="#0000ff" stroke-width="3.5"/>
<text x="812.0" y="677.9" font-family="'Liberation Serif', 'Times New Roman', serif" font-size="48" fill="#2a2a2a">x=0.02</text>
<line x1="690.2" y1="723.3" x2="803.8" y2="723.3" stroke="#008000" stroke-width="3.5"/>
<text x="812.0" y="738.8" font-family="'Liberation Serif', 'Times New Roman', serif" font-size="48" fill="#2a2a2a">x=0.03</text>
<line x1="690.2" y1="783.7" x2="803.8" y2="783.7" stroke="#ff00ff" stroke-width="3.5"/>
<text x="812.0" y="799.2" font-family="'Liberation Serif', 'Times New Roman', serif" font-size="48" fill="#2a2a2a">x=0.04</text>
<text x="952.8" y="136.5" font-family="'Liberation Serif', 'Times New Roman', serif" font-size="48" fill="#2a2a2a" textLength="200.7" lengthAdjust="spacing">f=100kHz</text>
<text x="715.5" y="955.3" font-family="'Liberation Serif', 'Times New Roman', serif" font-size="48" fill="#2a2a2a" text-anchor="middle" textLength="347" lengthAdjust="spacing">Temperature (°C)</text>
<text transform="translate(100.9,666.8) rotate(-90)" x="0" y="0" font-family="'Liberation Serif', 'Times New Roman', serif" font-size="48" fill="#2a2a2a" textLength="443" lengthAdjust="spacing">Dielectric constant (ε<tspan font-size="31" dy="14">r</tspan><tspan dy="-14">)</tspan></text>
<text x="12.1" y="82.6" font-family="'Liberation Serif', 'Times New Roman', serif" font-weight="bold" font-size="88" fill="#000">(a)</text>
<clipPath id="clip1527"><rect x="1527.4" y="78.2" width="920.0" height="740.2"/></clipPath>
<g clip-path="url(#clip1527)" fill="none" stroke-width="3.5" stroke-linejoin="round" stroke-linecap="round">
<path d="M1540.2,324.0 L1543.5,300.0 L1545.5,284.5 L1548.5,284.5 L1551.9,293.0 L1552.8,309.0 L1558.0,315.5" stroke="#000000"/>
<path d="M1558.0,315.5 L1560.7,316.9 L1563.4,318.3 L1566.1,319.5 L1568.8,320.6 L1571.6,321.6 L1574.5,322.5 L1577.3,323.4 L1580.2,324.1 L1583.1,324.8 L1586.1,325.4 L1589.0,325.9 L1592.0,326.3 L1595.0,326.7 L1598.0,327.0 L1601.0,327.3 L1604.1,327.6 L1607.1,327.7 L1610.2,327.9 L1613.2,328.0 L1616.3,328.2 L1619.4,328.3 L1622.5,328.3 L1625.5,328.4 L1628.6,328.5 L1631.7,328.6 L1634.8,328.7 L1637.8,328.8 L1640.9,328.9 L1643.9,329.1 L1647.0,329.3 L1650.0,329.5 L1653.0,329.8 L1656.0,330.1 L1659.0,330.5 L1661.9,331.0 L1664.8,331.5 L1667.7,332.1 L1670.6,332.7 L1673.5,333.4 L1676.3,334.2 L1679.1,335.1 L1681.9,336.0 L1684.6,337.0 L1687.3,338.0 L1690.0,339.2 L1692.6,340.4 L1695.2,341.7 L1697.8,343.0 L1700.3,344.4 L1702.8,345.9 L1705.2,347.5 L1707.6,349.1 L1710.0,350.8 L1712.3,352.6 L1714.5,354.5 L1716.7,356.4 L1718.9,358.4 L1721.0,360.5 L1723.1,362.7 L1725.1,364.9 L1727.1,367.2 L1729.0,369.6 L1730.8,372.0 L1732.7,374.5 L1734.4,377.0 L1736.2,379.5 L1737.8,382.1 L1739.5,384.7 L1741.1,387.4 L1742.6,390.0 L1744.1,392.7 L1745.6,395.4 L1747.1,398.1 L1748.5,400.7 L1749.8,403.4 L1751.1,406.2 L1752.4,408.9 L1753.7,411.6 L1754.9,414.3 L1756.1,417.1 L1757.3,419.8 L1758.4,422.6 L1759.6,425.3 L1760.7,428.1 L1761.7,430.8 L1762.8,433.6 L1763.8,436.4 L1764.8,439.2 L1765.8,442.0 L1766.8,444.8 L1767.8,447.6 L1768.7,450.4 L1769.7,453.2 L1770.6,456.0 L1771.5,458.8 L1772.5,461.7 L1773.4,464.5 L1774.3,467.3 L1775.2,470.2 L1776.1,473.0 L1776.9,475.9 L1777.8,478.7 L1778.7,481.5 L1779.6,484.4 L1780.5,487.3 L1781.4,490.1 L1782.3,493.0 L1783.2,495.8 L1784.2,498.7 L1785.1,501.6 L1786.0,504.4 L1786.9,507.3 L1787.8,510.1 L1788.8,513.0 L1789.7,515.9 L1790.6,518.7 L1791.6,521.6 L1792.5,524.5 L1793.5,527.3 L1794.4,530.2 L1795.4,533.1 L1796.3,535.9 L1797.3,538.8 L1798.3,541.7 L1799.3,544.5 L1800.2,547.4 L1801.2,550.3 L1802.2,553.1 L1803.2,556.0 L1804.2,558.8 L1805.3,561.7 L1806.3,564.5 L1807.3,567.3 L1808.4,570.2 L1809.4,573.0 L1810.5,575.9 L1811.5,578.7 L1812.6,581.5 L1813.7,584.3 L1814.7,587.2 L1815.8,590.0 L1816.9,592.8 L1818.1,595.6 L1819.2,598.4 L1820.3,601.2 L1821.4,604.0 L1822.6,606.7 L1823.7,609.5 L1824.9,612.3 L1826.1,615.0 L1827.3,617.8 L1828.4,620.5 L1829.7,623.3 L1830.9,626.0 L1832.1,628.8 L1833.3,631.5 L1834.6,634.2 L1835.8,636.9 L1837.1,639.6 L1838.4,642.3 L1839.7,645.0 L1841.1,647.7 L1842.4,650.3 L1843.8,653.0 L1845.1,655.7 L1846.5,658.3 L1848.0,660.9 L1849.4,663.6 L1850.9,666.2 L1852.4,668.8 L1853.9,671.4 L1855.4,674.0 L1857.0,676.6 L1858.6,679.2 L1860.2,681.7 L1861.8,684.3 L1863.5,686.8 L1865.2,689.3 L1866.9,691.8 L1868.7,694.2 L1870.4,696.6 L1872.3,699.0 L1874.1,701.4 L1876.0,703.7 L1877.9,706.0 L1879.9,708.2 L1881.9,710.4 L1883.9,712.6 L1885.9,714.6 L1888.1,716.7 L1890.2,718.7 L1892.4,720.6 L1894.6,722.5 L1896.9,724.3 L1899.2,726.1 L1901.5,727.8 L1903.9,729.4 L1906.3,731.0 L1908.8,732.5 L1911.3,733.9 L1913.9,735.3 L1916.5,736.5 L1919.1,737.7 L1921.8,738.9 L1924.5,739.9 L1927.3,741.0 L1930.1,741.9 L1932.9,742.8 L1935.8,743.6 L1938.6,744.3 L1941.5,745.0 L1944.5,745.6 L1947.4,746.2 L1950.4,746.7 L1953.4,747.2 L1956.4,747.6 L1959.4,747.9 L1962.4,748.2 L1965.4,748.5 L1968.5,748.7 L1971.5,748.8 L1974.6,748.9 L1977.7,749.0 L1980.7,749.0 L1983.8,748.9 L1986.9,748.8 L1990.0,748.7 L1993.0,748.5 L1996.1,748.3 L1999.1,748.1 L2002.2,747.8 L2005.2,747.5 L2008.3,747.2 L2011.3,746.8 L2014.3,746.4 L2017.4,746.0 L2020.4,745.6 L2023.4,745.2 L2026.4,744.8 L2029.5,744.3 L2032.5,743.9 L2035.5,743.5 L2038.5,743.0 L2041.5,742.6 L2044.5,742.2 L2047.5,741.8 L2050.5,741.4 L2053.5,741.0 L2056.5,740.7 L2059.5,740.3 L2062.5,740.0 L2065.5,739.7 L2068.5,739.3 L2071.5,739.0 L2074.5,738.7 L2077.5,738.4 L2080.5,738.2 L2083.4,737.9 L2086.4,737.6 L2089.4,737.3 L2092.4,737.1 L2095.4,736.8 L2098.3,736.5 L2101.3,736.3 L2104.3,736.0 L2107.3,735.7 L2110.2,735.5 L2113.2,735.2 L2116.2,734.9 L2119.1,734.6 L2122.1,734.4 L2125.0,734.1 L2128.0,733.8 L2130.9,733.5 L2133.9,733.2 L2136.8,732.8 L2139.8,732.5 L2142.7,732.2 L2145.7,731.8 L2148.6,731.4 L2151.6,731.0 L2154.5,730.6 L2157.4,730.2 L2160.4,729.8 L2163.3,729.3 L2166.2,728.9 L2169.1,728.4 L2172.1,727.9 L2175.0,727.4 L2177.9,726.8 L2180.8,726.2 L2183.7,725.7 L2186.7,725.0 L2189.6,724.4 L2192.5,723.8 L2195.4,723.1 L2198.3,722.4 L2201.2,721.7 L2204.1,721.0 L2207.0,720.2 L2209.9,719.5 L2212.8,718.7 L2215.7,717.9 L2218.6,717.1 L2221.4,716.3 L2224.3,715.5 L2227.2,714.6 L2230.1,713.8 L2233.0,712.9 L2235.8,712.0 L2238.7,711.1 L2241.6,710.2 L2244.4,709.3 L2247.3,708.3 L2250.2,707.4 L2253.0,706.4 L2255.9,705.4 L2258.7,704.5 L2261.6,703.5 L2264.4,702.5 L2267.3,701.5 L2270.1,700.5 L2273.0,699.5 L2275.8,698.4 L2278.6,697.4 L2281.5,696.4 L2284.3,695.3 L2287.1,694.3 L2289.9,693.2 L2292.8,692.1 L2295.6,691.1 L2298.4,690.0 L2301.2,688.9 L2304.0,687.7 L2306.8,686.6 L2309.5,685.5 L2312.3,684.3 L2315.1,683.1 L2317.8,682.0 L2320.6,680.8 L2323.3,679.5 L2326.1,678.3 L2328.8,677.1 L2331.5,675.8 L2334.2,674.5 L2336.9,673.2 L2339.6,671.9 L2342.2,670.6 L2344.9,669.2 L2347.5,667.8 L2350.2,666.5 L2352.8,665.0 L2355.4,663.6 L2358.0,662.1 L2360.6,660.7 L2363.2,659.2 L2365.7,657.6 L2368.3,656.1 L2370.8,654.5 L2373.3,652.9 L2375.8,651.3 L2378.3,649.6 L2380.7,647.9 L2383.2,646.2 L2385.6,644.5 L2388.0,642.7 L2390.4,641.0 L2392.8,639.1 L2395.2,637.3 L2397.5,635.4 L2399.8,633.5 L2402.1,631.6 L2404.4,629.6 L2406.7,627.6 L2408.9,625.6 L2411.1,623.6 L2413.3,621.5 L2415.5,619.4 L2417.6,617.3 L2419.8,615.2 L2421.9,613.0 L2424.0,610.8 L2426.0,608.7 L2428.1,606.5 L2430.1,604.2 L2432.1,602.0 L2434.1,599.8 L2436.0,597.5" stroke="#000000"/>
<path d="M1540.0,250.5 L1575.0,251.5 L1577.0,253.0 L1673.0,253.0 L1676.0,259.5" stroke="#ff0000"/>
<path d="M1676.0,259.5 L1679.4,258.8 L1682.7,258.2 L1685.9,257.8 L1689.1,257.6 L1692.2,257.5 L1695.3,257.6 L1698.3,257.8 L1701.2,258.2 L1704.1,258.7 L1706.9,259.4 L1709.7,260.3 L1712.3,261.2 L1714.9,262.4 L1717.5,263.7 L1719.9,265.1 L1722.3,266.6 L1724.7,268.3 L1726.9,270.1 L1729.1,272.0 L1731.3,274.0 L1733.4,276.1 L1735.4,278.3 L1737.4,280.5 L1739.3,282.9 L1741.1,285.2 L1742.9,287.7 L1744.6,290.2 L1746.3,292.7 L1748.0,295.2 L1749.5,297.8 L1751.1,300.4 L1752.5,303.0 L1754.0,305.6 L1755.4,308.3 L1756.7,311.0 L1758.0,313.7 L1759.3,316.4 L1760.6,319.1 L1761.8,321.8 L1762.9,324.6 L1764.1,327.3 L1765.2,330.1 L1766.3,332.9 L1767.3,335.7 L1768.4,338.5 L1769.4,341.3 L1770.4,344.2 L1771.4,347.0 L1772.3,349.9 L1773.2,352.8 L1774.2,355.6 L1775.1,358.5 L1775.9,361.4 L1776.8,364.3 L1777.6,367.2 L1778.5,370.1 L1779.3,373.0 L1780.0,375.9 L1780.8,378.9 L1781.6,381.8 L1782.3,384.7 L1783.0,387.6 L1783.8,390.6 L1784.5,393.5 L1785.2,396.4 L1785.9,399.4 L1786.6,402.3 L1787.3,405.2 L1788.0,408.1 L1788.7,411.1 L1789.4,414.0 L1790.1,416.9 L1790.8,419.8 L1791.5,422.7 L1792.2,425.6 L1793.0,428.5 L1793.7,431.4 L1794.4,434.3 L1795.1,437.2 L1795.9,440.1 L1796.6,443.0 L1797.4,445.9 L1798.1,448.8 L1798.9,451.7 L1799.7,454.6 L1800.4,457.5 L1801.2,460.4 L1802.0,463.2 L1802.8,466.1 L1803.6,469.0 L1804.4,471.9 L1805.2,474.7 L1806.1,477.6 L1806.9,480.5 L1807.7,483.3 L1808.6,486.2 L1809.4,489.1 L1810.3,491.9 L1811.1,494.8 L1812.0,497.7 L1812.9,500.5 L1813.7,503.4 L1814.6,506.2 L1815.5,509.1 L1816.3,511.9 L1817.2,514.8 L1818.1,517.6 L1819.0,520.5 L1819.9,523.3 L1820.8,526.2 L1821.6,529.0 L1822.5,531.8 L1823.4,534.7 L1824.3,537.5 L1825.2,540.3 L1826.1,543.2 L1827.0,546.0 L1827.8,548.8 L1828.7,551.7 L1829.6,554.5 L1830.5,557.3 L1831.4,560.2 L1832.3,563.0 L1833.2,565.8 L1834.1,568.6 L1835.0,571.5 L1835.9,574.3 L1836.9,577.1 L1837.8,579.9 L1838.7,582.8 L1839.7,585.6 L1840.6,588.4 L1841.6,591.2 L1842.5,594.0 L1843.5,596.8 L1844.5,599.7 L1845.5,602.5 L1846.5,605.3 L1847.5,608.1 L1848.5,610.9 L1849.5,613.7 L1850.6,616.5 L1851.6,619.3 L1852.7,622.2 L1853.8,625.0 L1854.9,627.8 L1856.0,630.6 L1857.1,633.4 L1858.2,636.2 L1859.4,639.0 L1860.5,641.8 L1861.7,644.6 L1862.9,647.4 L1864.2,650.2 L1865.4,653.0 L1866.7,655.8 L1868.0,658.5 L1869.3,661.3 L1870.6,664.0 L1872.0,666.7 L1873.4,669.4 L1874.9,672.1 L1876.3,674.8 L1877.8,677.4 L1879.4,680.0 L1881.0,682.6 L1882.6,685.1 L1884.3,687.6 L1886.0,690.1 L1887.7,692.5 L1889.5,694.9 L1891.3,697.2 L1893.2,699.5 L1895.2,701.8 L1897.2,704.0 L1899.2,706.2 L1901.3,708.3 L1903.5,710.3 L1905.7,712.3 L1907.9,714.3 L1910.3,716.1 L1912.6,718.0 L1915.1,719.7 L1917.5,721.4 L1920.1,723.1 L1922.6,724.7 L1925.2,726.2 L1927.9,727.7 L1930.6,729.1 L1933.3,730.5 L1936.0,731.8 L1938.8,733.0 L1941.6,734.2 L1944.4,735.3 L1947.2,736.4 L1950.1,737.4 L1953.0,738.3 L1955.8,739.2 L1958.7,740.0 L1961.6,740.8 L1964.6,741.5 L1967.5,742.2 L1970.4,742.7 L1973.3,743.3 L1976.2,743.8 L1979.2,744.2 L1982.1,744.6 L1985.0,744.9 L1988.0,745.2 L1990.9,745.4 L1993.9,745.6 L1996.8,745.7 L1999.8,745.8 L2002.7,745.9 L2005.7,745.9 L2008.7,745.9 L2011.6,745.8 L2014.6,745.8 L2017.6,745.6 L2020.6,745.5 L2023.5,745.3 L2026.5,745.1 L2029.5,744.9 L2032.5,744.6 L2035.5,744.4 L2038.4,744.1 L2041.4,743.8 L2044.4,743.4 L2047.4,743.1 L2050.4,742.7 L2053.4,742.3 L2056.4,742.0 L2059.4,741.6 L2062.4,741.2 L2065.4,740.8 L2068.4,740.4 L2071.4,739.9 L2074.4,739.5 L2077.4,739.1 L2080.4,738.7 L2083.4,738.3 L2086.4,737.9 L2089.4,737.5 L2092.4,737.1 L2095.4,736.7 L2098.4,736.3 L2101.4,735.9 L2104.4,735.5 L2107.4,735.1 L2110.4,734.7 L2113.4,734.3 L2116.4,733.9 L2119.4,733.5 L2122.4,733.1 L2125.4,732.7 L2128.4,732.3 L2131.4,731.9 L2134.4,731.5 L2137.4,731.0 L2140.4,730.6 L2143.4,730.2 L2146.4,729.7 L2149.4,729.3 L2152.3,728.8 L2155.3,728.4 L2158.3,727.9 L2161.3,727.4 L2164.3,726.9 L2167.2,726.4 L2170.2,725.9 L2173.2,725.3 L2176.1,724.8 L2179.1,724.2 L2182.1,723.6 L2185.0,723.1 L2188.0,722.5 L2190.9,721.9 L2193.9,721.3 L2196.8,720.6 L2199.8,720.0 L2202.7,719.3 L2205.6,718.7 L2208.6,718.0 L2211.5,717.3 L2214.4,716.6 L2217.3,715.9 L2220.3,715.2 L2223.2,714.4 L2226.1,713.7 L2229.0,712.9 L2231.9,712.1 L2234.8,711.3 L2237.7,710.5 L2240.6,709.7 L2243.4,708.8 L2246.3,708.0 L2249.2,707.1 L2252.1,706.3 L2254.9,705.4 L2257.8,704.5 L2260.6,703.5 L2263.5,702.6 L2266.3,701.7 L2269.1,700.7 L2272.0,699.7 L2274.8,698.7 L2277.6,697.7 L2280.4,696.7 L2283.2,695.6 L2286.0,694.6 L2288.8,693.5 L2291.6,692.4 L2294.4,691.3 L2297.2,690.2 L2299.9,689.1 L2302.7,687.9 L2305.4,686.8 L2308.2,685.6 L2310.9,684.4 L2313.7,683.2 L2316.4,681.9 L2319.1,680.7 L2321.8,679.4 L2324.5,678.2 L2327.2,676.9 L2329.9,675.5 L2332.6,674.2 L2335.3,672.9 L2337.9,671.5 L2340.6,670.1 L2343.2,668.7 L2345.9,667.3 L2348.5,665.8 L2351.1,664.4 L2353.7,662.9 L2356.3,661.4 L2358.9,659.9 L2361.5,658.3 L2364.0,656.7 L2366.5,655.1 L2369.1,653.5 L2371.6,651.8 L2374.1,650.1 L2376.5,648.4 L2379.0,646.6 L2381.4,644.9 L2383.8,643.0 L2386.2,641.2 L2388.6,639.3 L2390.9,637.4 L2393.2,635.5 L2395.5,633.5 L2397.8,631.5 L2400.1,629.4 L2402.3,627.3 L2404.5,625.2 L2406.7,623.1 L2408.9,621.0 L2411.1,618.8 L2413.2,616.7 L2415.4,614.6 L2417.6,612.5 L2419.7,610.4 L2421.9,608.3 L2424.1,606.3 L2426.2,604.3 L2428.4,602.3 L2430.6,600.4 L2432.8,598.6 L2435.1,596.8" stroke="#ff0000"/>
<path d="M1531.0,308.1 L1533.4,305.0 L1535.8,303.1 L1538.4,302.1 L1541.0,301.8 L1543.7,301.7 L1546.4,301.6 L1549.2,301.1 L1552.0,300.4 L1554.8,299.4 L1557.5,298.3 L1560.3,297.2 L1563.0,296.0 L1565.8,294.8 L1568.5,293.6 L1571.2,292.4 L1573.9,291.1 L1576.5,289.8 L1579.2,288.5 L1581.9,287.2 L1584.5,285.8 L1587.2,284.5 L1589.8,283.1 L1592.5,281.7 L1595.2,280.4 L1597.8,279.0 L1600.5,277.6 L1603.1,276.2 L1605.8,274.8 L1608.5,273.4 L1611.2,272.0 L1613.9,270.7 L1616.6,269.3 L1619.4,267.9 L1622.1,266.6 L1624.9,265.3 L1627.7,264.0 L1630.5,262.7 L1633.3,261.4 L1636.1,260.2 L1638.9,259.0 L1641.8,257.9 L1644.6,256.8 L1647.4,255.7 L1650.3,254.7 L1653.2,253.7 L1656.0,252.7 L1658.9,251.9 L1661.8,251.1 L1664.7,250.3 L1667.6,249.6 L1670.5,249.0 L1673.4,248.4 L1676.3,247.9 L1679.2,247.5 L1682.1,247.2 L1685.0,247.0 L1687.9,246.9 L1690.7,246.9 L1693.5,247.1 L1696.3,247.4 L1699.0,247.9 L1701.7,248.6 L1704.3,249.5 L1706.9,250.6 L1709.4,252.0 L1711.8,253.5 L1714.2,255.2 L1716.5,257.1 L1718.7,259.2 L1720.9,261.3 L1723.0,263.7 L1725.1,266.1 L1727.1,268.6 L1729.1,271.1 L1731.0,273.8 L1732.8,276.5 L1734.6,279.2 L1736.3,281.9 L1738.0,284.6 L1739.7,287.2 L1741.3,289.9 L1742.9,292.6 L1744.4,295.2 L1745.9,297.8 L1747.3,300.5 L1748.7,303.1 L1750.1,305.7 L1751.4,308.4 L1752.8,311.0 L1754.0,313.6 L1755.3,316.3 L1756.5,318.9 L1757.7,321.6 L1758.8,324.3 L1759.9,327.0 L1761.1,329.7 L1762.1,332.4 L1763.2,335.2 L1764.3,337.9 L1765.3,340.7 L1766.3,343.5 L1767.3,346.3 L1768.3,349.1 L1769.2,351.9 L1770.2,354.7 L1771.2,357.6 L1772.1,360.4 L1773.0,363.3 L1774.0,366.1 L1774.9,369.0 L1775.8,371.8 L1776.8,374.7 L1777.7,377.5 L1778.6,380.4 L1779.5,383.3 L1780.5,386.1 L1781.4,389.0 L1782.3,391.8 L1783.3,394.7 L1784.2,397.5 L1785.2,400.4 L1786.1,403.2 L1787.1,406.1 L1788.0,408.9 L1789.0,411.8 L1790.0,414.6 L1790.9,417.5 L1791.9,420.3 L1792.9,423.1 L1793.8,426.0 L1794.8,428.8 L1795.8,431.7 L1796.8,434.5 L1797.7,437.3 L1798.7,440.2 L1799.7,443.0 L1800.7,445.9 L1801.7,448.7 L1802.6,451.5 L1803.6,454.4 L1804.6,457.2 L1805.6,460.0 L1806.6,462.9 L1807.6,465.7 L1808.5,468.5 L1809.5,471.4 L1810.5,474.2 L1811.5,477.1 L1812.5,479.9 L1813.5,482.7 L1814.5,485.6 L1815.4,488.4 L1816.4,491.2 L1817.4,494.1 L1818.4,496.9 L1819.4,499.8 L1820.3,502.6 L1821.3,505.4 L1822.3,508.3 L1823.3,511.1 L1824.3,514.0 L1825.2,516.8 L1826.2,519.7 L1827.2,522.5 L1828.2,525.3 L1829.2,528.2 L1830.2,531.0 L1831.1,533.8 L1832.1,536.7 L1833.1,539.5 L1834.1,542.3 L1835.2,545.2 L1836.2,548.0 L1837.2,550.8 L1838.2,553.6 L1839.2,556.5 L1840.3,559.3 L1841.3,562.1 L1842.4,564.9 L1843.5,567.7 L1844.5,570.5 L1845.6,573.3 L1846.7,576.1 L1847.8,578.9 L1848.9,581.7 L1850.1,584.4 L1851.2,587.2 L1852.4,590.0 L1853.5,592.7 L1854.7,595.5 L1855.9,598.2 L1857.1,601.0 L1858.3,603.7 L1859.5,606.4 L1860.8,609.2 L1862.0,611.9 L1863.3,614.6 L1864.6,617.3 L1865.9,620.0 L1867.3,622.7 L1868.6,625.3 L1870.0,628.0 L1871.4,630.7 L1872.8,633.3 L1874.2,635.9 L1875.6,638.6 L1877.1,641.2 L1878.6,643.8 L1880.1,646.4 L1881.6,649.0 L1883.2,651.5 L1884.7,654.1 L1886.3,656.7 L1887.9,659.2 L1889.6,661.7 L1891.3,664.2 L1892.9,666.7 L1894.7,669.2 L1896.4,671.7 L1898.2,674.1 L1900.0,676.6 L1901.8,679.0 L1903.7,681.4 L1905.5,683.8 L1907.5,686.1 L1909.4,688.4 L1911.4,690.7 L1913.4,692.9 L1915.5,695.1 L1917.6,697.2 L1919.8,699.3 L1922.0,701.3 L1924.2,703.3 L1926.5,705.2 L1928.8,707.0 L1931.2,708.8 L1933.6,710.5 L1936.1,712.1 L1938.6,713.6 L1941.2,715.1 L1943.8,716.5 L1946.5,717.8 L1949.3,719.0 L1952.1,720.1 L1954.9,721.1 L1957.8,722.1 L1960.8,722.9 L1963.7,723.7 L1966.7,724.4 L1969.7,725.0 L1972.8,725.6 L1975.8,726.1 L1978.9,726.5 L1981.9,726.9 L1985.0,727.2 L1988.0,727.4 L1991.0,727.6 L1994.0,727.8 L1997.1,727.9 L2000.1,727.9 L2003.0,727.9 L2006.0,727.9 L2009.0,727.8 L2012.0,727.7 L2014.9,727.5 L2017.9,727.3 L2020.9,727.1 L2023.8,726.8 L2026.7,726.5 L2029.7,726.2 L2032.6,725.8 L2035.5,725.5 L2038.5,725.0 L2041.4,724.6 L2044.3,724.2 L2047.2,723.7 L2050.2,723.2 L2053.1,722.7 L2056.0,722.2 L2058.9,721.7 L2061.8,721.2 L2064.8,720.6 L2067.7,720.1 L2070.6,719.5 L2073.5,719.0 L2076.4,718.4 L2079.4,717.9 L2082.3,717.3 L2085.2,716.8 L2088.2,716.3 L2091.1,715.7 L2094.1,715.2 L2097.0,714.7 L2100.0,714.2 L2102.9,713.7 L2105.9,713.2 L2108.9,712.7 L2111.8,712.2 L2114.8,711.7 L2117.8,711.2 L2120.7,710.7 L2123.7,710.2 L2126.7,709.7 L2129.7,709.2 L2132.6,708.7 L2135.6,708.2 L2138.6,707.7 L2141.6,707.3 L2144.6,706.8 L2147.5,706.3 L2150.5,705.8 L2153.5,705.3 L2156.5,704.8 L2159.5,704.3 L2162.5,703.8 L2165.5,703.3 L2168.4,702.8 L2171.4,702.3 L2174.4,701.8 L2177.4,701.3 L2180.4,700.8 L2183.4,700.3 L2186.3,699.7 L2189.3,699.2 L2192.3,698.7 L2195.3,698.1 L2198.2,697.6 L2201.2,697.0 L2204.2,696.5 L2207.2,695.9 L2210.1,695.3 L2213.1,694.7 L2216.1,694.2 L2219.0,693.6 L2222.0,692.9 L2224.9,692.3 L2227.9,691.7 L2230.8,691.1 L2233.8,690.4 L2236.7,689.8 L2239.6,689.1 L2242.6,688.4 L2245.5,687.8 L2248.4,687.1 L2251.3,686.3 L2254.3,685.6 L2257.2,684.9 L2260.1,684.2 L2263.0,683.4 L2265.9,682.6 L2268.8,681.8 L2271.6,681.0 L2274.5,680.2 L2277.4,679.4 L2280.3,678.6 L2283.1,677.7 L2286.0,676.8 L2288.8,675.9 L2291.7,675.0 L2294.5,674.1 L2297.3,673.2 L2300.2,672.2 L2303.0,671.3 L2305.8,670.3 L2308.6,669.3 L2311.4,668.3 L2314.2,667.2 L2317.0,666.2 L2319.7,665.1 L2322.5,664.0 L2325.3,662.9 L2328.0,661.8 L2330.8,660.6 L2333.5,659.5 L2336.2,658.3 L2338.9,657.1 L2341.6,655.8 L2344.3,654.6 L2347.0,653.3 L2349.7,652.1 L2352.4,650.8 L2355.0,649.4 L2357.7,648.1 L2360.3,646.7 L2363.0,645.3 L2365.6,643.9 L2368.2,642.5 L2370.8,641.1 L2373.4,639.6 L2375.9,638.1 L2378.5,636.6 L2381.1,635.1 L2383.6,633.5 L2386.1,631.9 L2388.7,630.3 L2391.2,628.7 L2393.7,627.1 L2396.2,625.4 L2398.6,623.7 L2401.1,622.0 L2403.5,620.2 L2406.0,618.5 L2408.4,616.7 L2410.8,614.9 L2413.2,613.0 L2415.6,611.2 L2418.0,609.3 L2420.3,607.4 L2422.7,605.5 L2425.0,603.5 L2427.3,601.5 L2429.6,599.5 L2431.9,597.5 L2434.2,595.4 L2436.5,593.3 L2438.7,591.2" stroke="#0000ff"/>
<path d="M1543.3,347.4 L1543.3,298.0 L1547.6,291.0 L1551.9,296.0 L1552.6,321.0 L1555.5,327.8 L1558.0,332.7 L1566.6,333.9" stroke="#008000"/>
<path d="M1566.6,333.9 L1568.7,336.3 L1570.9,338.5 L1573.2,340.6 L1575.5,342.5 L1577.9,344.4 L1580.4,346.1 L1582.9,347.7 L1585.5,349.1 L1588.1,350.5 L1590.8,351.8 L1593.6,352.9 L1596.4,354.0 L1599.2,354.9 L1602.1,355.8 L1605.0,356.6 L1607.9,357.3 L1610.9,357.9 L1613.9,358.5 L1616.9,359.1 L1619.9,359.6 L1622.9,360.1 L1626.0,360.5 L1629.0,361.0 L1632.1,361.4 L1635.1,361.9 L1638.2,362.3 L1641.2,362.8 L1644.2,363.2 L1647.2,363.8 L1650.2,364.3 L1653.2,364.9 L1656.1,365.6 L1659.0,366.3 L1661.9,367.1 L1664.7,368.0 L1667.5,369.0 L1670.2,370.0 L1673.0,371.1 L1675.7,372.3 L1678.3,373.5 L1680.9,374.8 L1683.5,376.2 L1686.0,377.6 L1688.5,379.1 L1691.0,380.7 L1693.4,382.3 L1695.8,384.0 L1698.2,385.8 L1700.5,387.6 L1702.8,389.4 L1705.1,391.3 L1707.3,393.2 L1709.5,395.2 L1711.6,397.3 L1713.7,399.4 L1715.8,401.5 L1717.9,403.6 L1719.9,405.8 L1721.9,408.1 L1723.8,410.4 L1725.7,412.7 L1727.6,415.0 L1729.5,417.4 L1731.3,419.8 L1733.1,422.2 L1734.8,424.7 L1736.5,427.1 L1738.2,429.6 L1739.9,432.2 L1741.5,434.7 L1743.1,437.3 L1744.6,439.8 L1746.1,442.4 L1747.6,445.0 L1749.1,447.6 L1750.5,450.3 L1751.9,452.9 L1753.3,455.6 L1754.7,458.3 L1756.0,461.0 L1757.3,463.7 L1758.6,466.4 L1759.9,469.1 L1761.1,471.9 L1762.4,474.6 L1763.6,477.4 L1764.8,480.2 L1766.0,482.9 L1767.1,485.7 L1768.3,488.5 L1769.4,491.3 L1770.5,494.1 L1771.6,497.0 L1772.7,499.8 L1773.8,502.6 L1774.8,505.5 L1775.9,508.3 L1776.9,511.1 L1778.0,514.0 L1779.0,516.8 L1780.1,519.7 L1781.1,522.5 L1782.1,525.4 L1783.1,528.2 L1784.1,531.1 L1785.1,533.9 L1786.2,536.8 L1787.2,539.7 L1788.2,542.5 L1789.2,545.3 L1790.2,548.2 L1791.2,551.0 L1792.2,553.9 L1793.3,556.7 L1794.3,559.5 L1795.3,562.3 L1796.4,565.2 L1797.4,568.0 L1798.5,570.8 L1799.6,573.6 L1800.7,576.4 L1801.8,579.2 L1802.9,581.9 L1804.0,584.7 L1805.1,587.5 L1806.2,590.2 L1807.4,593.0 L1808.5,595.7 L1809.7,598.5 L1810.9,601.2 L1812.1,603.9 L1813.3,606.7 L1814.5,609.4 L1815.7,612.1 L1817.0,614.8 L1818.2,617.5 L1819.5,620.2 L1820.8,622.9 L1822.1,625.5 L1823.5,628.2 L1824.8,630.9 L1826.2,633.5 L1827.5,636.2 L1828.9,638.8 L1830.4,641.5 L1831.8,644.1 L1833.3,646.7 L1834.7,649.3 L1836.2,651.9 L1837.8,654.5 L1839.3,657.1 L1840.9,659.7 L1842.5,662.3 L1844.1,664.9 L1845.7,667.5 L1847.4,670.0 L1849.0,672.6 L1850.7,675.1 L1852.5,677.6 L1854.2,680.2 L1856.0,682.7 L1857.8,685.1 L1859.6,687.6 L1861.5,690.0 L1863.4,692.4 L1865.3,694.8 L1867.3,697.2 L1869.3,699.5 L1871.3,701.7 L1873.4,703.9 L1875.5,706.1 L1877.6,708.2 L1879.7,710.3 L1881.9,712.4 L1884.2,714.3 L1886.5,716.2 L1888.8,718.1 L1891.1,719.9 L1893.5,721.6 L1896.0,723.2 L1898.4,724.8 L1901.0,726.3 L1903.5,727.8 L1906.1,729.1 L1908.8,730.4 L1911.5,731.5 L1914.2,732.7 L1917.0,733.7 L1919.8,734.7 L1922.6,735.6 L1925.5,736.4 L1928.4,737.2 L1931.3,737.9 L1934.2,738.6 L1937.2,739.2 L1940.1,739.7 L1943.1,740.3 L1946.1,740.7 L1949.1,741.2 L1952.1,741.6 L1955.1,742.0 L1958.1,742.3 L1961.1,742.6 L1964.1,742.9 L1967.1,743.1 L1970.1,743.4 L1973.1,743.6 L1976.0,743.7 L1979.0,743.9 L1982.0,744.0 L1985.0,744.1 L1988.0,744.2 L1991.0,744.2 L1994.0,744.3 L1997.0,744.3 L2000.0,744.2 L2003.0,744.2 L2005.9,744.1 L2008.9,744.1 L2011.9,744.0 L2014.9,743.8 L2017.9,743.7 L2020.9,743.5 L2023.8,743.4 L2026.8,743.2 L2029.8,743.0 L2032.8,742.8 L2035.8,742.5 L2038.7,742.3 L2041.7,742.0 L2044.7,741.7 L2047.7,741.4 L2050.7,741.1 L2053.6,740.8 L2056.6,740.5 L2059.6,740.2 L2062.6,739.8 L2065.5,739.4 L2068.5,739.1 L2071.5,738.7 L2074.5,738.3 L2077.4,737.9 L2080.4,737.5 L2083.4,737.1 L2086.3,736.7 L2089.3,736.3 L2092.3,735.9 L2095.3,735.5 L2098.2,735.1 L2101.2,734.6 L2104.2,734.2 L2107.2,733.7 L2110.1,733.3 L2113.1,732.8 L2116.1,732.4 L2119.0,731.9 L2122.0,731.4 L2125.0,730.9 L2127.9,730.4 L2130.9,729.9 L2133.9,729.4 L2136.9,728.9 L2139.8,728.4 L2142.8,727.9 L2145.8,727.3 L2148.7,726.8 L2151.7,726.2 L2154.7,725.7 L2157.7,725.1 L2160.6,724.5 L2163.6,723.9 L2166.6,723.4 L2169.5,722.8 L2172.5,722.2 L2175.5,721.5 L2178.4,720.9 L2181.4,720.3 L2184.4,719.7 L2187.3,719.0 L2190.3,718.3 L2193.3,717.7 L2196.2,717.0 L2199.2,716.3 L2202.1,715.6 L2205.1,714.9 L2208.1,714.2 L2211.0,713.5 L2213.9,712.7 L2216.9,712.0 L2219.8,711.2 L2222.8,710.4 L2225.7,709.6 L2228.6,708.8 L2231.5,708.0 L2234.4,707.2 L2237.4,706.4 L2240.3,705.5 L2243.2,704.7 L2246.1,703.8 L2249.0,702.9 L2251.8,702.0 L2254.7,701.1 L2257.6,700.2 L2260.5,699.2 L2263.3,698.3 L2266.2,697.3 L2269.0,696.3 L2271.9,695.3 L2274.7,694.3 L2277.5,693.3 L2280.3,692.2 L2283.2,691.1 L2286.0,690.1 L2288.8,689.0 L2291.5,687.9 L2294.3,686.7 L2297.1,685.6 L2299.8,684.4 L2302.6,683.3 L2305.3,682.1 L2308.1,680.9 L2310.8,679.6 L2313.5,678.4 L2316.2,677.1 L2318.9,675.8 L2321.6,674.5 L2324.2,673.2 L2326.9,671.9 L2329.6,670.5 L2332.2,669.2 L2334.8,667.8 L2337.4,666.3 L2340.0,664.9 L2342.6,663.5 L2345.2,662.0 L2347.8,660.5 L2350.3,659.0 L2352.8,657.4 L2355.4,655.9 L2357.9,654.3 L2360.4,652.7 L2362.9,651.1 L2365.3,649.5 L2367.8,647.8 L2370.2,646.1 L2372.7,644.4 L2375.1,642.7 L2377.5,640.9 L2379.9,639.2 L2382.2,637.4 L2384.6,635.6 L2386.9,633.7 L2389.2,631.8 L2391.5,630.0 L2393.8,628.0 L2396.1,626.1 L2398.4,624.1 L2400.6,622.2 L2402.8,620.2 L2405.0,618.1 L2407.2,616.1 L2409.4,614.0 L2411.5,611.9 L2413.7,609.7 L2415.8,607.6 L2417.9,605.4 L2420.0,603.2 L2422.0,600.9 L2424.1,598.7 L2426.1,596.4 L2428.1,594.0 L2430.1,591.7 L2432.0,589.3 L2434.0,586.9 L2435.9,584.5" stroke="#008000"/>
<path d="M1543.3,369.5 L1543.3,337.0 L1546.0,332.7 L1548.5,333.5 L1551.9,337.0 L1553.0,350.0 L1555.5,358.5 L1560.5,364.6 L1566.6,364.6" stroke="#ff00ff"/>
<path d="M1566.6,364.6 L1569.0,366.6 L1571.4,368.4 L1573.9,370.1 L1576.4,371.7 L1579.0,373.2 L1581.7,374.6 L1584.3,375.8 L1587.1,377.0 L1589.8,378.1 L1592.6,379.1 L1595.4,380.0 L1598.3,380.9 L1601.1,381.7 L1604.0,382.5 L1606.9,383.2 L1609.9,383.9 L1612.8,384.6 L1615.8,385.2 L1618.7,385.9 L1621.7,386.5 L1624.6,387.2 L1627.6,387.9 L1630.5,388.6 L1633.5,389.3 L1636.4,390.1 L1639.3,390.9 L1642.2,391.7 L1645.1,392.7 L1647.9,393.6 L1650.7,394.7 L1653.6,395.8 L1656.3,397.0 L1659.1,398.2 L1661.8,399.5 L1664.5,400.8 L1667.2,402.2 L1669.8,403.6 L1672.4,405.1 L1675.0,406.7 L1677.5,408.2 L1680.0,409.9 L1682.5,411.6 L1684.9,413.3 L1687.3,415.1 L1689.6,416.9 L1692.0,418.8 L1694.2,420.7 L1696.4,422.7 L1698.6,424.7 L1700.8,426.7 L1702.9,428.8 L1704.9,430.9 L1706.9,433.0 L1708.8,435.2 L1710.7,437.4 L1712.6,439.7 L1714.4,441.9 L1716.2,444.2 L1717.9,446.6 L1719.6,449.0 L1721.3,451.3 L1722.9,453.8 L1724.5,456.2 L1726.1,458.7 L1727.7,461.2 L1729.2,463.7 L1730.7,466.2 L1732.2,468.8 L1733.7,471.4 L1735.1,474.0 L1736.5,476.6 L1737.9,479.2 L1739.3,481.9 L1740.7,484.5 L1742.1,487.2 L1743.4,489.9 L1744.7,492.6 L1746.0,495.3 L1747.3,498.1 L1748.6,500.8 L1749.9,503.6 L1751.1,506.3 L1752.4,509.1 L1753.6,511.9 L1754.8,514.7 L1756.0,517.5 L1757.2,520.3 L1758.4,523.1 L1759.6,525.9 L1760.8,528.7 L1762.0,531.6 L1763.1,534.4 L1764.3,537.2 L1765.5,540.0 L1766.6,542.9 L1767.8,545.7 L1768.9,548.5 L1770.0,551.4 L1771.2,554.2 L1772.3,557.0 L1773.5,559.8 L1774.6,562.7 L1775.7,565.5 L1776.9,568.3 L1778.0,571.1 L1779.2,573.9 L1780.3,576.6 L1781.5,579.4 L1782.7,582.2 L1783.8,584.9 L1785.0,587.7 L1786.2,590.4 L1787.4,593.1 L1788.5,595.8 L1789.7,598.5 L1791.0,601.2 L1792.2,603.8 L1793.4,606.5 L1794.7,609.1 L1795.9,611.7 L1797.2,614.3 L1798.5,616.9 L1799.8,619.5 L1801.1,622.1 L1802.4,624.7 L1803.7,627.3 L1805.1,629.8 L1806.4,632.4 L1807.8,635.0 L1809.2,637.6 L1810.7,640.2 L1812.1,642.8 L1813.6,645.4 L1815.1,648.0 L1816.6,650.6 L1818.1,653.2 L1819.7,655.9 L1821.2,658.5 L1822.8,661.1 L1824.5,663.8 L1826.1,666.4 L1827.8,669.1 L1829.5,671.7 L1831.2,674.3 L1833.0,676.9 L1834.7,679.5 L1836.6,682.0 L1838.4,684.5 L1840.3,687.0 L1842.2,689.5 L1844.1,691.9 L1846.1,694.3 L1848.1,696.7 L1850.1,699.0 L1852.2,701.2 L1854.3,703.4 L1856.4,705.6 L1858.6,707.7 L1860.8,709.7 L1863.0,711.7 L1865.3,713.6 L1867.6,715.5 L1870.0,717.3 L1872.4,719.0 L1874.8,720.6 L1877.3,722.2 L1879.8,723.8 L1882.3,725.2 L1884.9,726.6 L1887.5,728.0 L1890.1,729.3 L1892.7,730.5 L1895.4,731.7 L1898.1,732.9 L1900.8,734.0 L1903.5,735.0 L1906.3,736.0 L1909.1,736.9 L1911.9,737.8 L1914.7,738.7 L1917.5,739.5 L1920.4,740.3 L1923.3,741.0 L1926.1,741.7 L1929.0,742.3 L1932.0,742.9 L1934.9,743.5 L1937.8,744.0 L1940.8,744.5 L1943.7,744.9 L1946.7,745.4 L1949.6,745.7 L1952.6,746.1 L1955.6,746.4 L1958.6,746.7 L1961.6,747.0 L1964.5,747.3 L1967.5,747.5 L1970.5,747.7 L1973.5,747.9 L1976.5,748.0 L1979.5,748.1 L1982.5,748.2 L1985.5,748.3 L1988.5,748.4 L1991.6,748.4 L1994.6,748.4 L1997.6,748.4 L2000.6,748.4 L2003.6,748.3 L2006.6,748.3 L2009.6,748.2 L2012.7,748.1 L2015.7,748.0 L2018.7,747.9 L2021.7,747.7 L2024.8,747.6 L2027.8,747.4 L2030.8,747.2 L2033.8,747.0 L2036.8,746.8 L2039.9,746.6 L2042.9,746.4 L2045.9,746.2 L2048.9,745.9 L2052.0,745.7 L2055.0,745.4 L2058.0,745.2 L2061.0,744.9 L2064.0,744.6 L2067.0,744.4 L2070.0,744.1 L2073.1,743.8 L2076.1,743.5 L2079.1,743.2 L2082.1,742.9 L2085.1,742.6 L2088.1,742.3 L2091.1,742.0 L2094.1,741.7 L2097.1,741.4 L2100.1,741.1 L2103.1,740.7 L2106.1,740.4 L2109.0,740.1 L2112.0,739.7 L2115.0,739.4 L2118.0,739.0 L2121.0,738.7 L2124.0,738.3 L2126.9,737.9 L2129.9,737.6 L2132.9,737.2 L2135.9,736.8 L2138.8,736.4 L2141.8,736.0 L2144.8,735.5 L2147.7,735.1 L2150.7,734.7 L2153.6,734.2 L2156.6,733.8 L2159.6,733.3 L2162.5,732.8 L2165.5,732.4 L2168.4,731.9 L2171.4,731.4 L2174.3,730.9 L2177.2,730.3 L2180.2,729.8 L2183.1,729.3 L2186.1,728.7 L2189.0,728.1 L2191.9,727.6 L2194.9,727.0 L2197.8,726.4 L2200.7,725.8 L2203.6,725.1 L2206.5,724.5 L2209.5,723.9 L2212.4,723.2 L2215.3,722.5 L2218.2,721.8 L2221.1,721.1 L2224.0,720.4 L2226.9,719.7 L2229.8,718.9 L2232.7,718.2 L2235.6,717.4 L2238.5,716.6 L2241.4,715.8 L2244.3,715.0 L2247.2,714.1 L2250.1,713.3 L2253.0,712.4 L2255.8,711.5 L2258.7,710.6 L2261.6,709.7 L2264.4,708.8 L2267.3,707.8 L2270.2,706.9 L2273.0,705.9 L2275.8,704.9 L2278.7,703.9 L2281.5,702.8 L2284.3,701.7 L2287.1,700.7 L2289.9,699.6 L2292.7,698.4 L2295.5,697.3 L2298.2,696.1 L2301.0,694.9 L2303.7,693.7 L2306.4,692.5 L2309.1,691.3 L2311.8,690.0 L2314.5,688.7 L2317.2,687.4 L2319.8,686.0 L2322.5,684.6 L2325.1,683.2 L2327.7,681.8 L2330.3,680.3 L2332.8,678.8 L2335.3,677.3 L2337.9,675.7 L2340.4,674.0 L2342.8,672.4 L2345.3,670.7 L2347.7,668.9 L2350.1,667.1 L2352.5,665.3 L2354.9,663.5 L2357.2,661.6 L2359.6,659.7 L2361.9,657.7 L2364.1,655.7 L2366.4,653.7 L2368.6,651.7 L2370.7,649.6 L2372.9,647.5 L2375.0,645.3 L2377.1,643.2 L2379.2,641.0 L2381.2,638.8 L2383.2,636.5 L2385.2,634.3 L2387.2,632.0 L2389.1,629.6 L2391.0,627.3 L2392.8,624.9 L2394.7,622.6 L2396.5,620.2 L2398.3,617.7 L2400.0,615.3 L2401.8,612.9 L2403.5,610.4 L2405.2,607.9 L2406.9,605.4 L2408.5,602.9 L2410.2,600.4 L2411.8,597.8 L2413.4,595.3 L2415.0,592.7 L2416.6,590.2 L2418.1,587.6 L2419.7,585.0 L2421.2,582.4 L2422.7,579.8 L2424.2,577.2 L2425.7,574.6 L2427.2,572.0 L2428.7,569.4 L2430.1,566.8 L2431.6,564.2 L2433.1,561.6 L2434.5,559.0 L2436.0,556.4 L2437.4,553.8" stroke="#ff00ff"/>
<path d="M1540,251.2 L1575,251.6" stroke="#ff3c3c" stroke-width="6" stroke-linecap="butt"/>
</g>
<g stroke="#3a3a3a" stroke-width="2.4">
<line x1="1527.4" y1="774.6" x2="1541.9" y2="774.6"/>
<line x1="1527.4" y1="600.5" x2="1541.9" y2="600.5"/>
<line x1="1527.4" y1="426.3" x2="1541.9" y2="426.3"/>
<line x1="1527.4" y1="252.2" x2="1541.9" y2="252.2"/>
<line x1="1527.4" y1="78.0" x2="1541.9" y2="78.0"/>
<line x1="1527.4" y1="687.5" x2="1535.9" y2="687.5"/>
<line x1="1527.4" y1="513.4" x2="1535.9" y2="513.4"/>
<line x1="1527.4" y1="339.2" x2="1535.9" y2="339.2"/>
<line x1="1527.4" y1="165.1" x2="1535.9" y2="165.1"/>
<line x1="1698.6" y1="818.4" x2="1698.6" y2="802.9"/>
<line x1="1912.5" y1="818.4" x2="1912.5" y2="802.9"/>
<line x1="2126.5" y1="818.4" x2="2126.5" y2="802.9"/>
<line x1="2340.4" y1="818.4" x2="2340.4" y2="802.9"/>
<line x1="1591.6" y1="818.4" x2="1591.6" y2="811.4"/>
<line x1="1805.5" y1="818.4" x2="1805.5" y2="811.4"/>
<line x1="2019.5" y1="818.4" x2="2019.5" y2="811.4"/>
<line x1="2233.4" y1="818.4" x2="2233.4" y2="811.4"/>
<line x1="2447.4" y1="818.4" x2="2447.4" y2="811.4"/>
</g>
<rect x="1527" y="73.9" width="921.0" height="3.1" fill="#e5e5e5"/>
<rect x="1524.1" y="77.0" width="2.9" height="742.7" fill="#c8c8c8"/>
<rect x="1527.0" y="77.0" width="2.9" height="742.7" fill="#808080"/>
<rect x="2445.1" y="77.0" width="2.8" height="742.7" fill="#707070"/>
<rect x="2447.9" y="77.0" width="2.8" height="742.7" fill="#d8d8d8"/>
<rect x="1527.0" y="77.0" width="920.9" height="2.9" fill="#5e5e5e"/>
<rect x="1527.0" y="817.3" width="920.9" height="2.4" fill="#404040"/>
<g font-family="'Liberation Serif', 'Times New Roman', serif" font-size="48" fill="#2a2a2a" text-anchor="end">
<text x="1509.0" y="787.9">0.00</text>
<text x="1509.0" y="613.8">0.02</text>
<text x="1509.0" y="439.6">0.04</text>
<text x="1509.0" y="265.5">0.06</text>
<text x="1509.0" y="91.3">0.08</text>
</g>
<g font-family="'Liberation Serif', 'Times New Roman', serif" font-size="48" fill="#2a2a2a" text-anchor="middle">
<text x="1697.6" y="870.5">100</text>
<text x="1911.5" y="870.5">200</text>
<text x="2125.5" y="870.5">300</text>
<text x="2339.4" y="870.5">400</text>
</g>
<line x1="1917.5" y1="265.9" x2="2030.8" y2="265.9" stroke="#000000" stroke-width="3.5"/>
<text x="2039.8" y="281.4" font-family="'Liberation Serif', 'Times New Roman', serif" font-size="48" fill="#2a2a2a">x=0</text>
<line x1="1917.5" y1="326.2" x2="2030.8" y2="326.2" stroke="#ff0000" stroke-width="3.5"/>
<text x="2039.8" y="341.7" font-family="'Liberation Serif', 'Times New Roman', serif" font-size="48" fill="#2a2a2a">x=0.01</text>
<line x1="1917.5" y1="387.8" x2="2030.8" y2="387.8" stroke="#0000ff" stroke-width="3.5"/>
<text x="2039.8" y="403.3" font-family="'Liberation Serif', 'Times New Roman', serif" font-size="48" fill="#2a2a2a">x=0.02</text>
<line x1="1917.5" y1="446.8" x2="2030.8" y2="446.8" stroke="#008000" stroke-width="3.5"/>
<text x="2039.8" y="462.3" font-family="'Liberation Serif', 'Times New Roman', serif" font-size="48" fill="#2a2a2a">x=0.03</text>
<line x1="1917.5" y1="508.4" x2="2030.8" y2="508.4" stroke="#ff00ff" stroke-width="3.5"/>
<text x="2039.8" y="523.9" font-family="'Liberation Serif', 'Times New Roman', serif" font-size="48" fill="#2a2a2a">x=0.04</text>
<text x="2222.1" y="136.5" font-family="'Liberation Serif', 'Times New Roman', serif" font-size="48" fill="#2a2a2a" textLength="200.3" lengthAdjust="spacing">f=100kHz</text>
<text x="1986.0" y="955.3" font-family="'Liberation Serif', 'Times New Roman', serif" font-size="48" fill="#2a2a2a" text-anchor="middle" textLength="349" lengthAdjust="spacing">Temperature (°C)</text>
<text transform="translate(1406.1,651.5) rotate(-90)" x="0" y="0" font-family="'Liberation Serif', 'Times New Roman', serif" font-size="48" fill="#2a2a2a" textLength="409.5" lengthAdjust="spacing">Dielectric loss (tanδ)</text>
<text x="1239.2" y="82.6" font-family="'Liberation Serif', 'Times New Roman', serif" font-weight="bold" font-size="88" fill="#000">(b)</text>
</svg>
</body></html>
